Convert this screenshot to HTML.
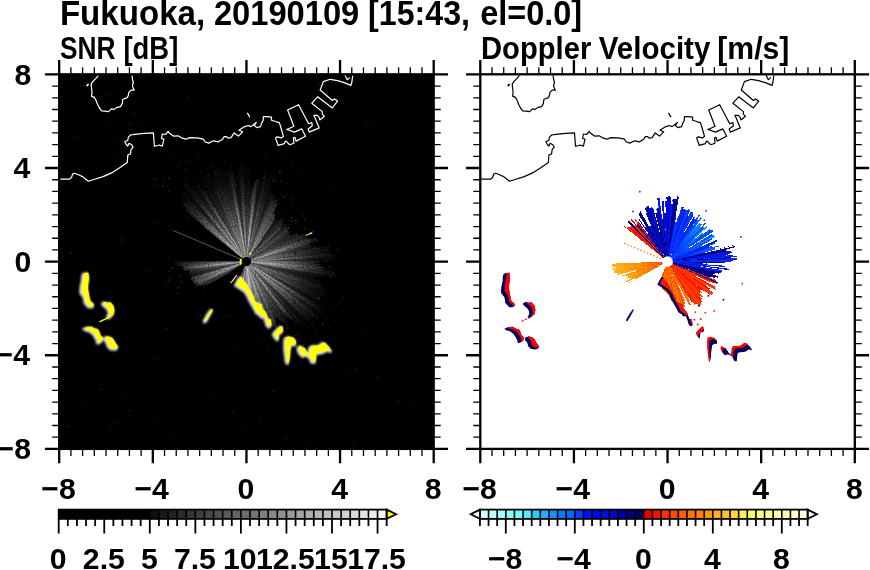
<!DOCTYPE html><html><head><meta charset="utf-8"><title>Fukuoka radar</title>
<style>html,body{margin:0;padding:0;background:#fff;width:870px;height:570px;overflow:hidden}svg{display:block}</style></head><body>
<svg width="870" height="570" viewBox="0 0 870 570">
<defs>
<clipPath id="cl"><rect x="59.2" y="74.3" width="374.5" height="374.6"/></clipPath>
<clipPath id="cr"><rect x="480.3" y="74.3" width="374.5" height="374.6"/></clipPath>
<radialGradient id="gf" gradientUnits="userSpaceOnUse" cx="246.45" cy="261.6" r="105"><stop offset="0" stop-color="#f6f6f6"/><stop offset="0.1" stop-color="#e6e6e6"/><stop offset="0.25" stop-color="#c2c2c2"/><stop offset="0.45" stop-color="#848484"/><stop offset="0.6" stop-color="#545454"/><stop offset="0.75" stop-color="#2e2e2e"/><stop offset="0.9" stop-color="#161616"/><stop offset="1" stop-color="#080808"/></radialGradient>
<radialGradient id="gc" gradientUnits="userSpaceOnUse" cx="246.45" cy="261.6" r="85"><stop offset="0" stop-color="#ffffff" stop-opacity="1"/><stop offset="0.25" stop-color="#e8e8e8" stop-opacity="0.95"/><stop offset="0.5" stop-color="#c0c0c0" stop-opacity="0.6"/><stop offset="0.75" stop-color="#a0a0a0" stop-opacity="0.2"/><stop offset="1" stop-color="#808080" stop-opacity="0"/></radialGradient>
<filter id="grain" filterUnits="userSpaceOnUse" x="59.2" y="74.3" width="374.5" height="374.6"><feTurbulence type="fractalNoise" baseFrequency="0.6" numOctaves="1" seed="4" result="t"/><feColorMatrix in="t" type="matrix" values="0 0 0 0 0  0 0 0 0 0  0 0 0 0 0  2.8 0 0 0 -0.65" result="a"/><feGaussianBlur in="SourceGraphic" stdDeviation="0.6" result="sg"/><feComposite in="sg" in2="a" operator="in" result="c"/><feGaussianBlur in="c" stdDeviation="0.35"/></filter>
<radialGradient id="gw" gradientUnits="userSpaceOnUse" cx="667.55" cy="261.6" r="55"><stop offset="0.08" stop-color="#ff4800"/><stop offset="0.45" stop-color="#ff8000"/><stop offset="0.75" stop-color="#ffa010"/><stop offset="1" stop-color="#ffb828"/></radialGradient>
<radialGradient id="gw2" gradientUnits="userSpaceOnUse" cx="667.55" cy="261.6" r="55"><stop offset="0.08" stop-color="#ff6000"/><stop offset="0.45" stop-color="#ff9800"/><stop offset="0.75" stop-color="#ffb020"/><stop offset="1" stop-color="#ffc030"/></radialGradient>
<filter id="erode" x="-10%" y="-10%" width="120%" height="120%"><feMorphology operator="erode" radius="0.5"/></filter>
<filter id="soft" x="-10%" y="-10%" width="120%" height="120%"><feGaussianBlur stdDeviation="0.7"/></filter>
<radialGradient id="gb" gradientUnits="userSpaceOnUse" cx="667.55" cy="261.6" r="55"><stop offset="0.1" stop-color="#0828f0"/><stop offset="0.4" stop-color="#0a50ff"/><stop offset="0.7" stop-color="#1880ff"/><stop offset="1" stop-color="#2098ff"/></radialGradient>
<radialGradient id="gb2" gradientUnits="userSpaceOnUse" cx="667.55" cy="261.6" r="55"><stop offset="0.1" stop-color="#0018e0"/><stop offset="0.5" stop-color="#0040ff"/><stop offset="1" stop-color="#1070ff"/></radialGradient>
<filter id="blur1" x="-20%" y="-20%" width="140%" height="140%"><feGaussianBlur stdDeviation="0.9"/></filter>
</defs>
<rect width="870" height="570" fill="#fff"/>
<rect x="59.2" y="74.3" width="374.5" height="374.6" fill="#000"/>
<g clip-path="url(#cl)">
<g fill="url(#gf)" filter="url(#grain)">
<polygon points="246.45,261.6 332.51,261.6 332.5,260.17" fill-opacity="0.26"/>
<polygon points="246.45,261.6 330.71,260.42 330.67,259.03" fill-opacity="0.17"/>
<polygon points="246.45,261.6 336.14,259.09 336.08,257.61" fill-opacity="0.18"/>
<polygon points="246.45,261.6 330.07,258.1 330,256.71" fill-opacity="0.24"/>
<polygon points="246.45,261.6 335.11,256.64 335.01,255.17" fill-opacity="0.40"/>
<polygon points="246.45,261.6 333.31,255.53 333.19,254.09" fill-opacity="0.58"/>
<polygon points="246.45,261.6 329.93,254.59 329.8,253.21" fill-opacity="0.35"/>
<polygon points="246.45,261.6 334.43,252.97 334.27,251.52" fill-opacity="0.29"/>
<polygon points="246.45,261.6 328.99,252.34 328.83,250.97" fill-opacity="0.27"/>
<polygon points="246.45,261.6 332.68,250.71 332.49,249.28" fill-opacity="0.34"/>
<polygon points="246.45,261.6 328.4,250.08 328.2,248.73" fill-opacity="0.37"/>
<polygon points="246.45,261.6 328.29,248.93 328.07,247.58" fill-opacity="0.28"/>
<polygon points="246.45,261.6 330.62,247.36 330.37,245.97" fill-opacity="0.30"/>
<polygon points="246.45,261.6 329.99,246.27 329.73,244.88" fill-opacity="0.38"/>
<polygon points="246.45,261.6 317.51,247.53 317.27,246.35" fill-opacity="0.21"/>
<polygon points="246.45,261.6 312.74,247.51 312.49,246.41" fill-opacity="0.16"/>
<polygon points="246.45,261.6 311.47,246.83 311.22,245.75" fill-opacity="0.26"/>
<polygon points="246.45,261.6 311.8,245.79 311.53,244.71" fill-opacity="0.24"/>
<polygon points="246.45,261.6 309.38,245.44 309.1,244.4" fill-opacity="0.24"/>
<polygon points="246.45,261.6 309.61,244.44 309.32,243.4" fill-opacity="0.39"/>
<polygon points="246.45,261.6 316.28,241.58 315.94,240.42" fill-opacity="0.48"/>
<polygon points="246.45,261.6 310.48,242.27 310.15,241.21" fill-opacity="0.56"/>
<polygon points="246.45,261.6 317.86,238.95 317.47,237.77" fill-opacity="0.51"/>
<polygon points="246.45,261.6 312.29,239.7 311.92,238.61" fill-opacity="0.47"/>
<polygon points="246.45,261.6 309.6,239.61 309.23,238.57" fill-opacity="0.53"/>
<polygon points="246.45,261.6 307.6,239.34 307.23,238.33" fill-opacity="0.48"/>
<polygon points="246.45,261.6 307.21,238.52 306.82,237.51" fill-opacity="0.37"/>
<polygon points="246.45,261.6 309.23,236.74 308.81,235.7" fill-opacity="0.21"/>
<polygon points="246.45,261.6 303.28,238.17 302.89,237.24" fill-opacity="0.17"/>
<polygon points="246.45,261.6 305.27,236.39 304.84,235.42" fill-opacity="0.31"/>
<polygon points="246.45,261.6 305.04,235.51 304.6,234.55" fill-opacity="0.29"/>
<polygon points="246.45,261.6 302.67,235.62 302.24,234.69" fill-opacity="0.24"/>
<polygon points="246.45,261.6 303.34,234.34 302.88,233.4" fill-opacity="0.20"/>
<polygon points="246.45,261.6 299.35,235.34 298.91,234.46" fill-opacity="0.16"/>
<polygon points="246.45,261.6 298.38,234.91 297.93,234.05" fill-opacity="0.12"/>
<polygon points="246.45,261.6 297.54,234.44 297.08,233.59" fill-opacity="0.15"/>
<polygon points="246.45,261.6 297.97,233.28 297.49,232.43" fill-opacity="0.17"/>
<polygon points="246.45,261.6 293.7,234.76 293.24,233.98" fill-opacity="0.13"/>
<polygon points="246.45,261.6 291.02,235.45 290.58,234.72" fill-opacity="0.12"/>
<polygon points="246.45,261.6 291.09,234.57 290.63,233.83" fill-opacity="0.13"/>
<polygon points="246.45,261.6 289.81,234.51 289.35,233.79" fill-opacity="0.11"/>
<polygon points="246.45,261.6 288.64,234.41 288.18,233.72" fill-opacity="0.12"/>
<polygon points="246.45,261.6 290.92,232.05 290.42,231.32" fill-opacity="0.17"/>
<polygon points="246.45,261.6 290.12,231.7 289.62,230.98" fill-opacity="0.18"/>
<polygon points="246.45,261.6 287.41,232.7 286.93,232.03" fill-opacity="0.16"/>
<polygon points="246.45,261.6 288.62,230.96 288.1,230.27" fill-opacity="0.19"/>
<polygon points="246.45,261.6 288.11,230.44 287.59,229.75" fill-opacity="0.21"/>
<polygon points="246.45,261.6 290.06,228.02 289.49,227.3" fill-opacity="0.23"/>
<polygon points="246.45,261.6 289.68,227.34 289.1,226.63" fill-opacity="0.20"/>
<polygon points="246.45,261.6 287.69,227.96 287.13,227.28" fill-opacity="0.16"/>
<polygon points="246.45,261.6 291.2,224.05 290.57,223.31" fill-opacity="0.19"/>
<polygon points="246.45,261.6 286.24,227.25 285.67,226.6" fill-opacity="0.12"/>
<polygon points="246.45,261.6 286.71,225.86 286.11,225.2" fill-opacity="0.07"/>
<polygon points="246.45,261.6 286.99,224.58 286.37,223.91" fill-opacity="0.12"/>
<polygon points="246.45,261.6 282.75,227.51 282.18,226.91" fill-opacity="0.21"/>
<polygon points="246.45,261.6 283.02,226.28 282.43,225.68" fill-opacity="0.33"/>
<polygon points="246.45,261.6 280.19,228.1 279.63,227.54" fill-opacity="0.35"/>
<polygon points="246.45,261.6 282.72,224.56 282.11,223.96" fill-opacity="0.28"/>
<polygon points="246.45,261.6 283.35,222.85 282.7,222.24" fill-opacity="0.15"/>
<polygon points="246.45,261.6 282.91,222.23 282.25,221.63" fill-opacity="0.11"/>
<polygon points="246.45,261.6 284.63,219.2 283.92,218.57" fill-opacity="0.15"/>
<polygon points="246.45,261.6 282.3,220.65 281.62,220.06" fill-opacity="0.14"/>
<polygon points="246.45,261.6 283.77,217.75 283.03,217.14" fill-opacity="0.13"/>
<polygon points="246.45,261.6 282.37,218.18 281.65,217.59" fill-opacity="0.09"/>
<polygon points="246.45,261.6 280.79,218.89 280.07,218.33" fill-opacity="0.08"/>
<polygon points="246.45,261.6 278.56,220.5 277.88,219.97" fill-opacity="0.07"/>
<polygon points="246.45,261.6 278.4,219.51 277.69,218.99" fill-opacity="0.08"/>
<polygon points="246.45,261.6 277.57,219.39 276.87,218.88" fill-opacity="0.08"/>
<polygon points="246.45,261.6 275.38,221.19 274.71,220.72" fill-opacity="0.06"/>
<polygon points="246.45,261.6 275.72,219.49 275.02,219.01" fill-opacity="0.10"/>
<polygon points="246.45,261.6 273.35,221.72 272.69,221.27" fill-opacity="0.28"/>
<polygon points="246.45,261.6 275.27,217.56 274.53,217.09" fill-opacity="0.35"/>
<polygon points="246.45,261.6 274.75,217.01 274,216.55" fill-opacity="0.40"/>
<polygon points="246.45,261.6 275.47,214.43 274.69,213.95" fill-opacity="0.39"/>
<polygon points="246.45,261.6 274.81,214.02 274.02,213.56" fill-opacity="0.33"/>
<polygon points="246.45,261.6 273.89,214.07 273.1,213.62" fill-opacity="0.29"/>
<polygon points="246.45,261.6 275.65,209.36 274.78,208.88" fill-opacity="0.33"/>
<polygon points="246.45,261.6 278.03,203.19 277.06,202.67" fill-opacity="0.38"/>
<polygon points="246.45,261.6 276.42,204.28 275.46,203.79" fill-opacity="0.46"/>
<polygon points="246.45,261.6 278.09,198.96 277.05,198.44" fill-opacity="0.38"/>
<polygon points="246.45,261.6 276.33,200.34 275.31,199.86" fill-opacity="0.35"/>
<polygon points="246.45,261.6 275.2,200.5 274.19,200.03" fill-opacity="0.35"/>
<polygon points="246.45,261.6 273.95,200.98 272.94,200.53" fill-opacity="0.34"/>
<polygon points="246.45,261.6 275.38,195.39 274.27,194.92" fill-opacity="0.34"/>
<polygon points="246.45,261.6 272.44,199.78 271.41,199.35" fill-opacity="0.27"/>
<polygon points="246.45,261.6 272.36,197.46 271.3,197.04" fill-opacity="0.24"/>
<polygon points="246.45,261.6 272.45,194.56 271.34,194.13" fill-opacity="0.21"/>
<polygon points="246.45,261.6 273.62,188.55 272.4,188.11" fill-opacity="0.14"/>
<polygon points="246.45,261.6 270.68,193.54 269.55,193.15" fill-opacity="0.12"/>
<polygon points="246.45,261.6 271.28,188.65 270.07,188.25" fill-opacity="0.12"/>
<polygon points="246.45,261.6 270.91,186.31 269.66,185.92" fill-opacity="0.16"/>
<polygon points="246.45,261.6 271.24,181.5 269.91,181.1" fill-opacity="0.23"/>
<polygon points="246.45,261.6 270.58,179.62 269.22,179.23" fill-opacity="0.23"/>
<polygon points="246.45,261.6 270.25,176.35 268.83,175.97" fill-opacity="0.21"/>
<polygon points="246.45,261.6 268.13,179.54 266.77,179.19" fill-opacity="0.17"/>
<polygon points="246.45,261.6 267.82,175.9 266.39,175.56" fill-opacity="0.28"/>
<polygon points="246.45,261.6 266.73,175.15 265.29,174.83" fill-opacity="0.44"/>
<polygon points="246.45,261.6 266.67,169.65 265.14,169.33" fill-opacity="0.27"/>
<polygon points="246.45,261.6 265.24,170.07 263.72,169.77" fill-opacity="0.19"/>
<polygon points="246.45,261.6 262.02,180 260.66,179.76" fill-opacity="0.15"/>
<polygon points="246.45,261.6 260.62,181.24 259.29,181.02" fill-opacity="0.14"/>
<polygon points="246.45,261.6 259.42,181.5 258.09,181.3" fill-opacity="0.18"/>
<polygon points="246.45,261.6 258.27,181.57 256.94,181.39" fill-opacity="0.44"/>
<polygon points="246.45,261.6 257.31,180.22 255.96,180.05" fill-opacity="0.68"/>
<polygon points="246.45,261.6 256.06,181.02 254.72,180.88" fill-opacity="0.80"/>
<polygon points="246.45,261.6 254.4,186.01 253.14,185.89" fill-opacity="0.60"/>
<polygon points="246.45,261.6 252.99,189.74 251.8,189.64" fill-opacity="0.40"/>
<polygon points="246.45,261.6 252.26,186.14 251,186.05" fill-opacity="0.27"/>
<polygon points="246.45,261.6 251.32,184.23 250.03,184.16" fill-opacity="0.20"/>
<polygon points="246.45,261.6 250.56,177.53 249.17,177.48" fill-opacity="0.16"/>
<polygon points="246.45,261.6 249.73,167.53 248.17,167.49" fill-opacity="0.26"/>
<polygon points="246.45,261.6 248.48,164.91 246.87,164.89" fill-opacity="0.23"/>
<polygon points="246.45,261.6 247.14,163.42 245.51,163.42" fill-opacity="0.12"/>
<polygon points="246.45,261.6 245.75,161.75 244.1,161.77" fill-opacity="0.18"/>
<polygon points="246.45,261.6 244.36,161.85 242.71,161.89" fill-opacity="0.33"/>
<polygon points="246.45,261.6 243.27,170.44 241.76,170.51" fill-opacity="0.41"/>
<polygon points="246.45,261.6 241.58,162.07 239.93,162.17" fill-opacity="0.47"/>
<polygon points="246.45,261.6 240.35,164.69 238.75,164.8" fill-opacity="0.40"/>
<polygon points="246.45,261.6 238.96,164.21 237.34,164.35" fill-opacity="0.27"/>
<polygon points="246.45,261.6 237.65,164.96 236.05,165.12" fill-opacity="0.17"/>
<polygon points="246.45,261.6 236.74,169.18 235.21,169.36" fill-opacity="0.12"/>
<polygon points="246.45,261.6 235.37,168.64 233.83,168.84" fill-opacity="0.14"/>
<polygon points="246.45,261.6 234.44,171.59 232.95,171.8" fill-opacity="0.22"/>
<polygon points="246.45,261.6 232.22,165.22 230.62,165.47" fill-opacity="0.50"/>
<polygon points="246.45,261.6 231.91,171.81 230.42,172.06" fill-opacity="0.67"/>
<polygon points="246.45,261.6 230.65,171.99 229.17,172.26" fill-opacity="0.70"/>
<polygon points="246.45,261.6 229.12,170.74 227.61,171.04" fill-opacity="0.54"/>
<polygon points="246.45,261.6 227.99,171.69 226.51,172.01" fill-opacity="0.39"/>
<polygon points="246.45,261.6 226.33,170.09 224.82,170.44" fill-opacity="0.25"/>
<polygon points="246.45,261.6 225.83,173.67 224.37,174.02" fill-opacity="0.28"/>
<polygon points="246.45,261.6 224.65,174.15 223.2,174.52" fill-opacity="0.40"/>
<polygon points="246.45,261.6 222.53,171.05 221.03,171.46" fill-opacity="0.29"/>
<polygon points="246.45,261.6 220.74,169.5 219.21,169.94" fill-opacity="0.25"/>
<polygon points="246.45,261.6 217.77,164.15 216.16,164.64" fill-opacity="0.32"/>
<polygon points="246.45,261.6 217.03,166.57 215.46,167.07" fill-opacity="0.34"/>
<polygon points="246.45,261.6 212.04,155.69 210.28,156.27" fill-opacity="0.37"/>
<polygon points="246.45,261.6 212.1,160.71 210.43,161.29" fill-opacity="0.38"/>
<polygon points="246.45,261.6 213.85,170.06 212.34,170.61" fill-opacity="0.36"/>
<polygon points="246.45,261.6 213.7,173.54 212.24,174.09" fill-opacity="0.28"/>
<polygon points="246.45,261.6 213.64,177 212.24,177.56" fill-opacity="0.37"/>
<polygon points="246.45,261.6 213.48,179.99 212.13,180.55" fill-opacity="0.44"/>
<polygon points="246.45,261.6 213.5,183.21 212.2,183.77" fill-opacity="0.32"/>
<polygon points="246.45,261.6 208.54,174.84 207.11,175.48" fill-opacity="0.26"/>
<polygon points="246.45,261.6 205.41,171.14 203.92,171.83" fill-opacity="0.21"/>
<polygon points="246.45,261.6 205.33,174.21 203.88,174.9" fill-opacity="0.20"/>
<polygon points="246.45,261.6 202.79,172.08 201.31,172.82" fill-opacity="0.21"/>
<polygon points="246.45,261.6 203.05,175.69 201.63,176.42" fill-opacity="0.27"/>
<polygon points="246.45,261.6 201.94,176.46 200.53,177.21" fill-opacity="0.22"/>
<polygon points="246.45,261.6 200.31,176.26 198.9,177.04" fill-opacity="0.18"/>
<polygon points="246.45,261.6 200.95,180.19 199.61,180.95" fill-opacity="0.19"/>
<polygon points="246.45,261.6 198.12,177.89 196.74,178.7" fill-opacity="0.32"/>
<polygon points="246.45,261.6 201.98,187 200.75,187.75" fill-opacity="0.58"/>
<polygon points="246.45,261.6 202.16,189.61 200.97,190.35" fill-opacity="0.66"/>
<polygon points="246.45,261.6 195.45,181.24 194.13,182.1" fill-opacity="0.56"/>
<polygon points="246.45,261.6 196.19,184.8 194.92,185.64" fill-opacity="0.33"/>
<polygon points="246.45,261.6 196.68,187.81 195.46,188.65" fill-opacity="0.25"/>
<polygon points="246.45,261.6 192.31,183.7 191.03,184.61" fill-opacity="0.27"/>
<polygon points="246.45,261.6 194.21,188.63 193,189.5" fill-opacity="0.33"/>
<polygon points="246.45,261.6 189.71,184.63 188.44,185.58" fill-opacity="0.43"/>
<polygon points="246.45,261.6 185.29,181.03 183.97,182.06" fill-opacity="0.50"/>
<polygon points="246.45,261.6 184.65,182.5 183.35,183.54" fill-opacity="0.61"/>
<polygon points="246.45,261.6 184.39,184.42 183.12,185.45" fill-opacity="0.61"/>
<polygon points="246.45,261.6 186.28,188.87 185.08,189.88" fill-opacity="0.25"/>
<polygon points="246.45,261.6 184.36,188.64 183.16,189.68" fill-opacity="0.15"/>
<polygon points="246.45,261.6 185.39,191.85 184.24,192.87" fill-opacity="0.19"/>
<polygon points="246.45,261.6 181.13,189.06 179.94,190.15" fill-opacity="0.26"/>
<polygon points="246.45,261.6 183.87,194.02 182.76,195.06" fill-opacity="0.41"/>
<polygon points="246.45,261.6 182.97,194.94 181.87,196" fill-opacity="0.50"/>
<polygon points="246.45,261.6 186.78,200.67 185.78,201.67" fill-opacity="0.55"/>
<polygon points="246.45,261.6 187.48,203.04 186.51,204.02" fill-opacity="0.49"/>
<polygon points="246.45,261.6 183.37,200.68 182.37,201.74" fill-opacity="0.61"/>
<polygon points="246.45,261.6 182.92,201.94 181.94,203" fill-opacity="0.64"/>
<polygon points="246.45,261.6 184.92,205.42 184,206.44" fill-opacity="0.54"/>
<polygon points="246.45,261.6 186.18,208.09 185.3,209.1" fill-opacity="0.49"/>
<polygon points="246.45,261.6 186.56,209.9 185.71,210.9" fill-opacity="0.42"/>
<polygon points="246.45,261.6 202.43,224.66 201.82,225.39" fill-opacity="0.25"/>
<polygon points="246.45,261.6 234.76,252.07 234.61,252.26" fill-opacity="0.07"/>
<polygon points="246.45,261.6 216.93,261.19 216.93,261.68" fill-opacity="0.14"/>
<polygon points="246.45,261.6 175.02,261.6 175.02,262.78" fill-opacity="0.27"/>
<polygon points="246.45,261.6 174.92,262.6 174.95,263.78" fill-opacity="0.21"/>
<polygon points="246.45,261.6 178.72,263.49 178.76,264.61" fill-opacity="0.35"/>
<polygon points="246.45,261.6 174.27,264.63 174.33,265.82" fill-opacity="0.38"/>
<polygon points="246.45,261.6 180.5,265.29 180.57,266.38" fill-opacity="0.37"/>
<polygon points="246.45,261.6 183.88,265.98 183.96,267.01" fill-opacity="0.39"/>
<polygon points="246.45,261.6 181.44,267.06 181.54,268.14" fill-opacity="0.44"/>
<polygon points="246.45,261.6 185.55,267.57 185.66,268.58" fill-opacity="0.65"/>
<polygon points="246.45,261.6 182.87,268.73 183,269.78" fill-opacity="0.62"/>
<polygon points="246.45,261.6 183.85,269.51 183.99,270.55" fill-opacity="0.49"/>
<polygon points="246.45,261.6 188.88,269.69 189.02,270.64" fill-opacity="0.25"/>
<polygon points="246.45,261.6 188.95,270.5 189.11,271.45" fill-opacity="0.18"/>
<polygon points="246.45,261.6 188.86,271.34 189.02,272.29" fill-opacity="0.23"/>
<polygon points="246.45,261.6 189.47,272.06 189.66,273" fill-opacity="0.15"/>
<polygon points="246.45,261.6 187.3,273.31 187.5,274.29" fill-opacity="0.10"/>
<polygon points="246.45,261.6 189.91,273.62 190.11,274.55" fill-opacity="0.15"/>
<polygon points="246.45,261.6 189.06,274.64 189.29,275.59" fill-opacity="0.15"/>
<polygon points="246.45,261.6 191.33,274.93 191.56,275.85" fill-opacity="0.09"/>
<polygon points="246.45,261.6 186.28,277.05 186.54,278.05" fill-opacity="0.13"/>
<polygon points="246.45,261.6 191.08,276.64 191.34,277.56" fill-opacity="0.18"/>
<polygon points="246.45,261.6 191.52,277.35 191.79,278.26" fill-opacity="0.28"/>
<polygon points="246.45,261.6 191.82,278.09 192.1,279" fill-opacity="0.39"/>
<polygon points="246.45,261.6 190.78,279.26 191.08,280.18" fill-opacity="0.49"/>
<polygon points="246.45,261.6 194.64,278.83 194.93,279.69" fill-opacity="0.40"/>
<polygon points="246.45,261.6 191.63,280.69 191.96,281.6" fill-opacity="0.37"/>
<polygon points="246.45,261.6 194.03,280.68 194.35,281.55" fill-opacity="0.51"/>
<polygon points="246.45,261.6 193.54,281.7 193.88,282.57" fill-opacity="0.51"/>
<polygon points="246.45,261.6 193.55,282.54 193.91,283.42" fill-opacity="0.45"/>
<polygon points="246.45,261.6 197.23,281.89 197.58,282.7" fill-opacity="0.45"/>
<polygon points="246.45,261.6 195.14,283.59 195.51,284.44" fill-opacity="0.39"/>
<polygon points="246.45,261.6 196.69,283.76 197.06,284.58" fill-opacity="0.41"/>
<polygon points="246.45,261.6 197.81,284.07 198.19,284.88" fill-opacity="0.35"/>
<polygon points="246.45,261.6 194.03,286.71 194.46,287.58" fill-opacity="0.31"/>
<polygon points="246.45,261.6 199.41,284.95 199.8,285.73" fill-opacity="0.15"/>
<polygon points="246.45,261.6 199.84,285.55 200.24,286.32" fill-opacity="0.14"/>
<polygon points="246.45,261.6 200.5,286.03 200.91,286.79" fill-opacity="0.17"/>
<polygon points="246.45,261.6 203.14,285.41 203.54,286.13" fill-opacity="0.18"/>
<polygon points="246.45,261.6 205.96,284.6 206.35,285.27" fill-opacity="0.17"/>
<polygon points="246.45,261.6 206.81,284.86 207.2,285.51" fill-opacity="0.11"/>
<polygon points="246.45,261.6 214.98,280.66 215.31,281.17" fill-opacity="0.10"/>
<polygon points="246.45,261.6 225.17,274.9 225.39,275.25" fill-opacity="0.10"/>
<polygon points="246.45,261.6 236.97,267.71 237.08,267.86" fill-opacity="0.06"/>
<polygon points="246.45,261.6 243.96,267.52 244.06,267.57" fill-opacity="0.07"/>
<polygon points="246.45,261.6 239.25,279.42 239.55,279.53" fill-opacity="0.19"/>
<polygon points="246.45,261.6 238.96,280.91 239.28,281.03" fill-opacity="0.20"/>
<polygon points="246.45,261.6 239.4,280.56 239.71,280.68" fill-opacity="0.23"/>
<polygon points="246.45,261.6 239.43,281.3 239.76,281.42" fill-opacity="0.18"/>
<polygon points="246.45,261.6 239.56,281.83 239.9,281.94" fill-opacity="0.15"/>
<polygon points="246.45,261.6 239.81,282.03 240.15,282.14" fill-opacity="0.13"/>
<polygon points="246.45,261.6 240.05,282.27 240.39,282.38" fill-opacity="0.13"/>
<polygon points="246.45,261.6 240.2,282.85 240.55,282.95" fill-opacity="0.15"/>
<polygon points="246.45,261.6 240.25,283.79 240.62,283.89" fill-opacity="0.09"/>
<polygon points="246.45,261.6 240.72,283.28 241.08,283.37" fill-opacity="0.09"/>
<polygon points="246.45,261.6 240.76,284.41 241.14,284.5" fill-opacity="0.18"/>
<polygon points="246.45,261.6 241.04,284.67 241.42,284.76" fill-opacity="0.20"/>
<polygon points="246.45,261.6 241.42,284.49 241.8,284.57" fill-opacity="0.30"/>
<polygon points="246.45,261.6 241.58,285.34 241.97,285.41" fill-opacity="0.48"/>
<polygon points="246.45,261.6 241.76,286.17 242.17,286.24" fill-opacity="0.57"/>
<polygon points="246.45,261.6 242.08,286.4 242.49,286.47" fill-opacity="0.58"/>
<polygon points="246.45,261.6 242.48,286.11 242.89,286.18" fill-opacity="0.40"/>
<polygon points="246.45,261.6 242.57,287.9 243,287.96" fill-opacity="0.33"/>
<polygon points="246.45,261.6 242.93,287.99 243.37,288.04" fill-opacity="0.32"/>
<polygon points="246.45,261.6 243.22,288.66 243.67,288.71" fill-opacity="0.30"/>
<polygon points="246.45,261.6 243.71,287.65 244.14,287.7" fill-opacity="0.25"/>
<polygon points="246.45,261.6 244.02,288.27 244.47,288.31" fill-opacity="0.25"/>
<polygon points="246.45,261.6 244.4,288.26 244.84,288.29" fill-opacity="0.27"/>
<polygon points="246.45,261.6 244.67,289.84 245.14,289.87" fill-opacity="0.39"/>
<polygon points="246.45,261.6 245.09,289.35 245.55,289.36" fill-opacity="0.46"/>
<polygon points="246.45,261.6 245.48,289.45 245.94,289.46" fill-opacity="0.52"/>
<polygon points="246.45,261.6 245.85,290.29 246.32,290.3" fill-opacity="0.41"/>
<polygon points="246.45,261.6 246.24,291.49 246.74,291.49" fill-opacity="0.42"/>
<polygon points="246.45,261.6 246.66,291.66 247.16,291.66" fill-opacity="0.47"/>
<polygon points="246.45,261.6 247.07,290.99 247.55,290.98" fill-opacity="0.50"/>
<polygon points="246.45,261.6 247.5,291.54 247.99,291.52" fill-opacity="0.49"/>
<polygon points="246.45,261.6 248.04,294.16 248.58,294.13" fill-opacity="0.40"/>
<polygon points="246.45,261.6 248.53,294.67 249.08,294.64" fill-opacity="0.55"/>
<polygon points="246.45,261.6 249.11,296.11 249.68,296.06" fill-opacity="0.76"/>
<polygon points="246.45,261.6 249.58,295.99 250.15,295.93" fill-opacity="0.78"/>
<polygon points="246.45,261.6 250.17,297.03 250.76,296.97" fill-opacity="0.76"/>
<polygon points="246.45,261.6 250.98,299.56 251.6,299.48" fill-opacity="0.71"/>
<polygon points="246.45,261.6 251.58,300.08 252.22,299.99" fill-opacity="0.77"/>
<polygon points="246.45,261.6 252.17,300.35 252.81,300.25" fill-opacity="0.81"/>
<polygon points="246.45,261.6 253.24,303.54 253.94,303.42" fill-opacity="0.70"/>
<polygon points="246.45,261.6 253.91,303.89 254.61,303.76" fill-opacity="0.52"/>
<polygon points="246.45,261.6 254.81,305.4 255.53,305.26" fill-opacity="0.37"/>
<polygon points="246.45,261.6 255.27,304.58 255.98,304.43" fill-opacity="0.26"/>
<polygon points="246.45,261.6 256.64,307.95 257.41,307.78" fill-opacity="0.27"/>
<polygon points="246.45,261.6 257.11,307.05 257.86,306.87" fill-opacity="0.36"/>
<polygon points="246.45,261.6 258.66,310.58 259.47,310.37" fill-opacity="0.48"/>
<polygon points="246.45,261.6 259.41,310.64 260.22,310.42" fill-opacity="0.53"/>
<polygon points="246.45,261.6 260.39,311.52 261.21,311.28" fill-opacity="0.47"/>
<polygon points="246.45,261.6 261.69,313.38 262.54,313.12" fill-opacity="0.52"/>
<polygon points="246.45,261.6 263.21,315.75 264.11,315.46" fill-opacity="0.78"/>
<polygon points="246.45,261.6 263.92,315.37 264.81,315.07" fill-opacity="0.62"/>
<polygon points="246.45,261.6 265.36,317.14 266.27,316.81" fill-opacity="0.46"/>
<polygon points="246.45,261.6 267.51,320.73 268.48,320.37" fill-opacity="0.31"/>
<polygon points="246.45,261.6 268.87,321.87 269.86,321.49" fill-opacity="0.26"/>
<polygon points="246.45,261.6 270.27,323 271.28,322.6" fill-opacity="0.28"/>
<polygon points="246.45,261.6 272.7,326.57 273.77,326.13" fill-opacity="0.27"/>
<polygon points="246.45,261.6 274.09,327.35 275.18,326.88" fill-opacity="0.32"/>
<polygon points="246.45,261.6 275.28,327.6 276.37,327.11" fill-opacity="0.47"/>
<polygon points="246.45,261.6 275.47,325.57 276.52,325.08" fill-opacity="0.49"/>
<polygon points="246.45,261.6 274.79,321.83 275.78,321.35" fill-opacity="0.43"/>
<polygon points="246.45,261.6 275.71,321.59 276.7,321.1" fill-opacity="0.32"/>
<polygon points="246.45,261.6 274.16,316.46 275.07,316" fill-opacity="0.26"/>
<polygon points="246.45,261.6 276.25,318.6 277.19,318.09" fill-opacity="0.29"/>
<polygon points="246.45,261.6 277.01,318.12 277.94,317.61" fill-opacity="0.28"/>
<polygon points="246.45,261.6 280.01,321.66 281.01,321.09" fill-opacity="0.25"/>
<polygon points="246.45,261.6 280.8,321.1 281.78,320.52" fill-opacity="0.22"/>
<polygon points="246.45,261.6 283.6,323.91 284.62,323.29" fill-opacity="0.25"/>
<polygon points="246.45,261.6 283.67,322.11 284.67,321.48" fill-opacity="0.32"/>
<polygon points="246.45,261.6 287.53,326.33 288.6,325.64" fill-opacity="0.21"/>
<polygon points="246.45,261.6 286.41,322.66 287.41,321.99" fill-opacity="0.17"/>
<polygon points="246.45,261.6 284.13,317.46 285.05,316.83" fill-opacity="0.20"/>
<polygon points="246.45,261.6 284.98,317.04 285.9,316.39" fill-opacity="0.28"/>
<polygon points="246.45,261.6 287.07,318.34 288.01,317.66" fill-opacity="0.47"/>
<polygon points="246.45,261.6 284.08,312.64 284.92,312.01" fill-opacity="0.65"/>
<polygon points="246.45,261.6 290.23,319.28 291.18,318.55" fill-opacity="0.69"/>
<polygon points="246.45,261.6 292.01,319.91 292.97,319.15" fill-opacity="0.43"/>
<polygon points="246.45,261.6 296.5,323.85 297.53,323.02" fill-opacity="0.24"/>
<polygon points="246.45,261.6 302.39,329.22 303.5,328.28" fill-opacity="0.14"/>
<polygon points="246.45,261.6 301.78,326.61 302.85,325.69" fill-opacity="0.24"/>
<polygon points="246.45,261.6 303.42,326.68 304.5,325.73" fill-opacity="0.23"/>
<polygon points="246.45,261.6 305.26,326.91 306.33,325.93" fill-opacity="0.16"/>
<polygon points="246.45,261.6 307.75,327.8 308.84,326.77" fill-opacity="0.12"/>
<polygon points="246.45,261.6 303.65,321.66 304.63,320.7" fill-opacity="0.11"/>
<polygon points="246.45,261.6 307.65,324.1 308.68,323.07" fill-opacity="0.12"/>
<polygon points="246.45,261.6 307.55,322.28 308.55,321.25" fill-opacity="0.21"/>
<polygon points="246.45,261.6 308.52,321.54 309.5,320.5" fill-opacity="0.35"/>
<polygon points="246.45,261.6 308.8,320.15 309.77,319.11" fill-opacity="0.44"/>
<polygon points="246.45,261.6 310.57,320.15 311.53,319.08" fill-opacity="0.43"/>
<polygon points="246.45,261.6 310.25,318.24 311.18,317.17" fill-opacity="0.38"/>
<polygon points="246.45,261.6 312.38,318.51 313.32,317.41" fill-opacity="0.35"/>
<polygon points="246.45,261.6 312.63,317.13 313.54,316.03" fill-opacity="0.36"/>
<polygon points="246.45,261.6 318.56,320.41 319.52,319.21" fill-opacity="0.60"/>
<polygon points="246.45,261.6 314.39,315.45 315.27,314.32" fill-opacity="0.56"/>
<polygon points="246.45,261.6 313.49,313.23 314.34,312.11" fill-opacity="0.44"/>
<polygon points="246.45,261.6 312.86,311.28 313.67,310.17" fill-opacity="0.27"/>
<polygon points="246.45,261.6 319.72,314.83 320.59,313.61" fill-opacity="0.25"/>
<polygon points="246.45,261.6 320.97,314.17 321.83,312.93" fill-opacity="0.40"/>
<polygon points="246.45,261.6 320.59,312.36 321.42,311.13" fill-opacity="0.55"/>
<polygon points="246.45,261.6 318.61,309.54 319.4,308.34" fill-opacity="0.66"/>
<polygon points="246.45,261.6 319.66,308.78 320.43,307.56" fill-opacity="0.48"/>
<polygon points="246.45,261.6 321.29,308.36 322.05,307.12" fill-opacity="0.27"/>
<polygon points="246.45,261.6 323.49,308.26 324.25,306.97" fill-opacity="0.11"/>
<polygon points="246.45,261.6 320.09,304.8 320.79,303.58" fill-opacity="0.11"/>
<polygon points="246.45,261.6 321.18,304.05 321.87,302.81" fill-opacity="0.12"/>
<polygon points="246.45,261.6 317.65,300.74 318.29,299.55" fill-opacity="0.15"/>
<polygon points="246.45,261.6 322.14,301.85 322.8,300.59" fill-opacity="0.21"/>
<polygon points="246.45,261.6 321.52,300.18 322.15,298.93" fill-opacity="0.31"/>
<polygon points="246.45,261.6 318.72,297.47 319.3,296.27" fill-opacity="0.25"/>
<polygon points="246.45,261.6 318.28,296.01 318.84,294.82" fill-opacity="0.23"/>
<polygon points="246.45,261.6 327.94,299.25 328.55,297.9" fill-opacity="0.21"/>
<polygon points="246.45,261.6 324.8,296.48 325.37,295.18" fill-opacity="0.22"/>
<polygon points="246.45,261.6 327.63,296.4 328.2,295.04" fill-opacity="0.25"/>
<polygon points="246.45,261.6 325.07,294 325.59,292.7" fill-opacity="0.17"/>
<polygon points="246.45,261.6 328.72,294.17 329.25,292.8" fill-opacity="0.19"/>
<polygon points="246.45,261.6 328.8,292.88 329.3,291.51" fill-opacity="0.32"/>
<polygon points="246.45,261.6 327.92,291.25 328.4,289.9" fill-opacity="0.32"/>
<polygon points="246.45,261.6 323.91,288.57 324.35,287.29" fill-opacity="0.29"/>
<polygon points="246.45,261.6 326.28,288.16 326.71,286.83" fill-opacity="0.22"/>
<polygon points="246.45,261.6 321.37,285.37 321.75,284.12" fill-opacity="0.18"/>
<polygon points="246.45,261.6 322.68,284.61 323.05,283.35" fill-opacity="0.14"/>
<polygon points="246.45,261.6 319.01,282.41 319.35,281.2" fill-opacity="0.12"/>
<polygon points="246.45,261.6 319.58,281.47 319.9,280.25" fill-opacity="0.11"/>
<polygon points="246.45,261.6 314.64,279.11 314.92,277.98" fill-opacity="0.09"/>
<polygon points="246.45,261.6 313.77,277.89 314.03,276.77" fill-opacity="0.09"/>
<polygon points="246.45,261.6 317.39,277.72 317.65,276.54" fill-opacity="0.11"/>
<polygon points="246.45,261.6 319.86,277.2 320.11,275.98" fill-opacity="0.14"/>
<polygon points="246.45,261.6 327.32,277.61 327.58,276.27" fill-opacity="0.17"/>
<polygon points="246.45,261.6 330.91,277.1 331.15,275.7" fill-opacity="0.26"/>
<polygon points="246.45,261.6 336.27,276.79 336.51,275.3" fill-opacity="0.41"/>
<polygon points="246.45,261.6 336.17,275.49 336.39,274" fill-opacity="0.58"/>
<polygon points="246.45,261.6 335.16,274.07 335.35,272.59" fill-opacity="0.47"/>
<polygon points="246.45,261.6 333.54,272.6 333.71,271.16" fill-opacity="0.49"/>
<polygon points="246.45,261.6 324.88,270.4 325.02,269.1" fill-opacity="0.57"/>
<polygon points="246.45,261.6 320.99,268.91 321.1,267.67" fill-opacity="0.64"/>
<polygon points="246.45,261.6 325.01,268.2 325.11,266.89" fill-opacity="0.67"/>
<polygon points="246.45,261.6 317.24,266.55 317.31,265.38" fill-opacity="0.64"/>
<polygon points="246.45,261.6 321.67,265.81 321.73,264.56" fill-opacity="0.48"/>
<polygon points="246.45,261.6 319.85,264.68 319.89,263.46" fill-opacity="0.32"/>
<polygon points="246.45,261.6 313.51,263.47 313.53,262.36" fill-opacity="0.53"/>
<polygon points="246.45,261.6 319.36,262.62 319.37,261.41" fill-opacity="0.54"/>
</g>
<g fill="url(#gc)" filter="url(#soft)">
<polygon points="246.45,261.6 332.51,261.6 332.5,260.17" fill-opacity="0.33"/>
<polygon points="246.45,261.6 330.71,260.42 330.67,259.03" fill-opacity="0.25"/>
<polygon points="246.45,261.6 336.14,259.09 336.08,257.61" fill-opacity="0.26"/>
<polygon points="246.45,261.6 330.07,258.1 330,256.71" fill-opacity="0.30"/>
<polygon points="246.45,261.6 335.11,256.64 335.01,255.17" fill-opacity="0.45"/>
<polygon points="246.45,261.6 333.31,255.53 333.19,254.09" fill-opacity="0.61"/>
<polygon points="246.45,261.6 329.93,254.59 329.8,253.21" fill-opacity="0.41"/>
<polygon points="246.45,261.6 334.43,252.97 334.27,251.52" fill-opacity="0.35"/>
<polygon points="246.45,261.6 328.99,252.34 328.83,250.97" fill-opacity="0.34"/>
<polygon points="246.45,261.6 332.68,250.71 332.49,249.28" fill-opacity="0.40"/>
<polygon points="246.45,261.6 328.4,250.08 328.2,248.73" fill-opacity="0.43"/>
<polygon points="246.45,261.6 328.29,248.93 328.07,247.58" fill-opacity="0.34"/>
<polygon points="246.45,261.6 330.62,247.36 330.37,245.97" fill-opacity="0.36"/>
<polygon points="246.45,261.6 329.99,246.27 329.73,244.88" fill-opacity="0.43"/>
<polygon points="246.45,261.6 317.51,247.53 317.27,246.35" fill-opacity="0.28"/>
<polygon points="246.45,261.6 312.74,247.51 312.49,246.41" fill-opacity="0.23"/>
<polygon points="246.45,261.6 311.47,246.83 311.22,245.75" fill-opacity="0.32"/>
<polygon points="246.45,261.6 311.8,245.79 311.53,244.71" fill-opacity="0.30"/>
<polygon points="246.45,261.6 309.38,245.44 309.1,244.4" fill-opacity="0.30"/>
<polygon points="246.45,261.6 309.61,244.44 309.32,243.4" fill-opacity="0.43"/>
<polygon points="246.45,261.6 316.28,241.58 315.94,240.42" fill-opacity="0.51"/>
<polygon points="246.45,261.6 310.48,242.27 310.15,241.21" fill-opacity="0.58"/>
<polygon points="246.45,261.6 317.86,238.95 317.47,237.77" fill-opacity="0.54"/>
<polygon points="246.45,261.6 312.29,239.7 311.92,238.61" fill-opacity="0.50"/>
<polygon points="246.45,261.6 309.6,239.61 309.23,238.57" fill-opacity="0.55"/>
<polygon points="246.45,261.6 307.6,239.34 307.23,238.33" fill-opacity="0.50"/>
<polygon points="246.45,261.6 307.21,238.52 306.82,237.51" fill-opacity="0.41"/>
<polygon points="246.45,261.6 309.23,236.74 308.81,235.7" fill-opacity="0.26"/>
<polygon points="246.45,261.6 303.28,238.17 302.89,237.24" fill-opacity="0.23"/>
<polygon points="246.45,261.6 305.27,236.39 304.84,235.42" fill-opacity="0.35"/>
<polygon points="246.45,261.6 305.04,235.51 304.6,234.55" fill-opacity="0.33"/>
<polygon points="246.45,261.6 302.67,235.62 302.24,234.69" fill-opacity="0.29"/>
<polygon points="246.45,261.6 303.34,234.34 302.88,233.4" fill-opacity="0.24"/>
<polygon points="246.45,261.6 299.35,235.34 298.91,234.46" fill-opacity="0.21"/>
<polygon points="246.45,261.6 298.38,234.91 297.93,234.05" fill-opacity="0.17"/>
<polygon points="246.45,261.6 297.54,234.44 297.08,233.59" fill-opacity="0.19"/>
<polygon points="246.45,261.6 297.97,233.28 297.49,232.43" fill-opacity="0.22"/>
<polygon points="246.45,261.6 293.7,234.76 293.24,233.98" fill-opacity="0.18"/>
<polygon points="246.45,261.6 291.02,235.45 290.58,234.72" fill-opacity="0.17"/>
<polygon points="246.45,261.6 291.09,234.57 290.63,233.83" fill-opacity="0.18"/>
<polygon points="246.45,261.6 289.81,234.51 289.35,233.79" fill-opacity="0.16"/>
<polygon points="246.45,261.6 288.64,234.41 288.18,233.72" fill-opacity="0.16"/>
<polygon points="246.45,261.6 290.92,232.05 290.42,231.32" fill-opacity="0.21"/>
<polygon points="246.45,261.6 290.12,231.7 289.62,230.98" fill-opacity="0.22"/>
<polygon points="246.45,261.6 287.41,232.7 286.93,232.03" fill-opacity="0.20"/>
<polygon points="246.45,261.6 288.62,230.96 288.1,230.27" fill-opacity="0.23"/>
<polygon points="246.45,261.6 288.11,230.44 287.59,229.75" fill-opacity="0.25"/>
<polygon points="246.45,261.6 290.06,228.02 289.49,227.3" fill-opacity="0.26"/>
<polygon points="246.45,261.6 289.68,227.34 289.1,226.63" fill-opacity="0.24"/>
<polygon points="246.45,261.6 287.69,227.96 287.13,227.28" fill-opacity="0.20"/>
<polygon points="246.45,261.6 291.2,224.05 290.57,223.31" fill-opacity="0.23"/>
<polygon points="246.45,261.6 286.24,227.25 285.67,226.6" fill-opacity="0.17"/>
<polygon points="246.45,261.6 286.71,225.86 286.11,225.2" fill-opacity="0.12"/>
<polygon points="246.45,261.6 286.99,224.58 286.37,223.91" fill-opacity="0.16"/>
<polygon points="246.45,261.6 282.75,227.51 282.18,226.91" fill-opacity="0.24"/>
<polygon points="246.45,261.6 283.02,226.28 282.43,225.68" fill-opacity="0.35"/>
<polygon points="246.45,261.6 280.19,228.1 279.63,227.54" fill-opacity="0.37"/>
<polygon points="246.45,261.6 282.72,224.56 282.11,223.96" fill-opacity="0.30"/>
<polygon points="246.45,261.6 283.35,222.85 282.7,222.24" fill-opacity="0.19"/>
<polygon points="246.45,261.6 282.91,222.23 282.25,221.63" fill-opacity="0.15"/>
<polygon points="246.45,261.6 284.63,219.2 283.92,218.57" fill-opacity="0.19"/>
<polygon points="246.45,261.6 282.3,220.65 281.62,220.06" fill-opacity="0.19"/>
<polygon points="246.45,261.6 283.77,217.75 283.03,217.14" fill-opacity="0.17"/>
<polygon points="246.45,261.6 282.37,218.18 281.65,217.59" fill-opacity="0.14"/>
<polygon points="246.45,261.6 280.79,218.89 280.07,218.33" fill-opacity="0.13"/>
<polygon points="246.45,261.6 278.56,220.5 277.88,219.97" fill-opacity="0.12"/>
<polygon points="246.45,261.6 278.4,219.51 277.69,218.99" fill-opacity="0.13"/>
<polygon points="246.45,261.6 277.57,219.39 276.87,218.88" fill-opacity="0.13"/>
<polygon points="246.45,261.6 275.38,221.19 274.71,220.72" fill-opacity="0.11"/>
<polygon points="246.45,261.6 275.72,219.49 275.02,219.01" fill-opacity="0.15"/>
<polygon points="246.45,261.6 273.35,221.72 272.69,221.27" fill-opacity="0.31"/>
<polygon points="246.45,261.6 275.27,217.56 274.53,217.09" fill-opacity="0.37"/>
<polygon points="246.45,261.6 274.75,217.01 274,216.55" fill-opacity="0.42"/>
<polygon points="246.45,261.6 275.47,214.43 274.69,213.95" fill-opacity="0.40"/>
<polygon points="246.45,261.6 274.81,214.02 274.02,213.56" fill-opacity="0.36"/>
<polygon points="246.45,261.6 273.89,214.07 273.1,213.62" fill-opacity="0.32"/>
<polygon points="246.45,261.6 275.65,209.36 274.78,208.88" fill-opacity="0.36"/>
<polygon points="246.45,261.6 278.03,203.19 277.06,202.67" fill-opacity="0.40"/>
<polygon points="246.45,261.6 276.42,204.28 275.46,203.79" fill-opacity="0.48"/>
<polygon points="246.45,261.6 278.09,198.96 277.05,198.44" fill-opacity="0.41"/>
<polygon points="246.45,261.6 276.33,200.34 275.31,199.86" fill-opacity="0.38"/>
<polygon points="246.45,261.6 275.2,200.5 274.19,200.03" fill-opacity="0.39"/>
<polygon points="246.45,261.6 273.95,200.98 272.94,200.53" fill-opacity="0.38"/>
<polygon points="246.45,261.6 275.38,195.39 274.27,194.92" fill-opacity="0.38"/>
<polygon points="246.45,261.6 272.44,199.78 271.41,199.35" fill-opacity="0.32"/>
<polygon points="246.45,261.6 272.36,197.46 271.3,197.04" fill-opacity="0.29"/>
<polygon points="246.45,261.6 272.45,194.56 271.34,194.13" fill-opacity="0.27"/>
<polygon points="246.45,261.6 273.62,188.55 272.4,188.11" fill-opacity="0.21"/>
<polygon points="246.45,261.6 270.68,193.54 269.55,193.15" fill-opacity="0.19"/>
<polygon points="246.45,261.6 271.28,188.65 270.07,188.25" fill-opacity="0.19"/>
<polygon points="246.45,261.6 270.91,186.31 269.66,185.92" fill-opacity="0.22"/>
<polygon points="246.45,261.6 271.24,181.5 269.91,181.1" fill-opacity="0.29"/>
<polygon points="246.45,261.6 270.58,179.62 269.22,179.23" fill-opacity="0.29"/>
<polygon points="246.45,261.6 270.25,176.35 268.83,175.97" fill-opacity="0.28"/>
<polygon points="246.45,261.6 268.13,179.54 266.77,179.19" fill-opacity="0.24"/>
<polygon points="246.45,261.6 267.82,175.9 266.39,175.56" fill-opacity="0.34"/>
<polygon points="246.45,261.6 266.73,175.15 265.29,174.83" fill-opacity="0.48"/>
<polygon points="246.45,261.6 266.67,169.65 265.14,169.33" fill-opacity="0.33"/>
<polygon points="246.45,261.6 265.24,170.07 263.72,169.77" fill-opacity="0.26"/>
<polygon points="246.45,261.6 262.02,180 260.66,179.76" fill-opacity="0.23"/>
<polygon points="246.45,261.6 260.62,181.24 259.29,181.02" fill-opacity="0.22"/>
<polygon points="246.45,261.6 259.42,181.5 258.09,181.3" fill-opacity="0.26"/>
<polygon points="246.45,261.6 258.27,181.57 256.94,181.39" fill-opacity="0.49"/>
<polygon points="246.45,261.6 257.31,180.22 255.96,180.05" fill-opacity="0.70"/>
<polygon points="246.45,261.6 256.06,181.02 254.72,180.88" fill-opacity="0.81"/>
<polygon points="246.45,261.6 254.4,186.01 253.14,185.89" fill-opacity="0.63"/>
<polygon points="246.45,261.6 252.99,189.74 251.8,189.64" fill-opacity="0.46"/>
<polygon points="246.45,261.6 252.26,186.14 251,186.05" fill-opacity="0.34"/>
<polygon points="246.45,261.6 251.32,184.23 250.03,184.16" fill-opacity="0.27"/>
<polygon points="246.45,261.6 250.56,177.53 249.17,177.48" fill-opacity="0.24"/>
<polygon points="246.45,261.6 249.73,167.53 248.17,167.49" fill-opacity="0.33"/>
<polygon points="246.45,261.6 248.48,164.91 246.87,164.89" fill-opacity="0.30"/>
<polygon points="246.45,261.6 247.14,163.42 245.51,163.42" fill-opacity="0.21"/>
<polygon points="246.45,261.6 245.75,161.75 244.1,161.77" fill-opacity="0.26"/>
<polygon points="246.45,261.6 244.36,161.85 242.71,161.89" fill-opacity="0.39"/>
<polygon points="246.45,261.6 243.27,170.44 241.76,170.51" fill-opacity="0.47"/>
<polygon points="246.45,261.6 241.58,162.07 239.93,162.17" fill-opacity="0.52"/>
<polygon points="246.45,261.6 240.35,164.69 238.75,164.8" fill-opacity="0.45"/>
<polygon points="246.45,261.6 238.96,164.21 237.34,164.35" fill-opacity="0.34"/>
<polygon points="246.45,261.6 237.65,164.96 236.05,165.12" fill-opacity="0.25"/>
<polygon points="246.45,261.6 236.74,169.18 235.21,169.36" fill-opacity="0.21"/>
<polygon points="246.45,261.6 235.37,168.64 233.83,168.84" fill-opacity="0.23"/>
<polygon points="246.45,261.6 234.44,171.59 232.95,171.8" fill-opacity="0.30"/>
<polygon points="246.45,261.6 232.22,165.22 230.62,165.47" fill-opacity="0.55"/>
<polygon points="246.45,261.6 231.91,171.81 230.42,172.06" fill-opacity="0.70"/>
<polygon points="246.45,261.6 230.65,171.99 229.17,172.26" fill-opacity="0.72"/>
<polygon points="246.45,261.6 229.12,170.74 227.61,171.04" fill-opacity="0.58"/>
<polygon points="246.45,261.6 227.99,171.69 226.51,172.01" fill-opacity="0.45"/>
<polygon points="246.45,261.6 226.33,170.09 224.82,170.44" fill-opacity="0.32"/>
<polygon points="246.45,261.6 225.83,173.67 224.37,174.02" fill-opacity="0.36"/>
<polygon points="246.45,261.6 224.65,174.15 223.2,174.52" fill-opacity="0.46"/>
<polygon points="246.45,261.6 222.53,171.05 221.03,171.46" fill-opacity="0.36"/>
<polygon points="246.45,261.6 220.74,169.5 219.21,169.94" fill-opacity="0.33"/>
<polygon points="246.45,261.6 217.77,164.15 216.16,164.64" fill-opacity="0.39"/>
<polygon points="246.45,261.6 217.03,166.57 215.46,167.07" fill-opacity="0.41"/>
<polygon points="246.45,261.6 212.04,155.69 210.28,156.27" fill-opacity="0.44"/>
<polygon points="246.45,261.6 212.1,160.71 210.43,161.29" fill-opacity="0.44"/>
<polygon points="246.45,261.6 213.85,170.06 212.34,170.61" fill-opacity="0.43"/>
<polygon points="246.45,261.6 213.7,173.54 212.24,174.09" fill-opacity="0.36"/>
<polygon points="246.45,261.6 213.64,177 212.24,177.56" fill-opacity="0.44"/>
<polygon points="246.45,261.6 213.48,179.99 212.13,180.55" fill-opacity="0.50"/>
<polygon points="246.45,261.6 213.5,183.21 212.2,183.77" fill-opacity="0.39"/>
<polygon points="246.45,261.6 208.54,174.84 207.11,175.48" fill-opacity="0.33"/>
<polygon points="246.45,261.6 205.41,171.14 203.92,171.83" fill-opacity="0.30"/>
<polygon points="246.45,261.6 205.33,174.21 203.88,174.9" fill-opacity="0.29"/>
<polygon points="246.45,261.6 202.79,172.08 201.31,172.82" fill-opacity="0.29"/>
<polygon points="246.45,261.6 203.05,175.69 201.63,176.42" fill-opacity="0.34"/>
<polygon points="246.45,261.6 201.94,176.46 200.53,177.21" fill-opacity="0.30"/>
<polygon points="246.45,261.6 200.31,176.26 198.9,177.04" fill-opacity="0.27"/>
<polygon points="246.45,261.6 200.95,180.19 199.61,180.95" fill-opacity="0.27"/>
<polygon points="246.45,261.6 198.12,177.89 196.74,178.7" fill-opacity="0.39"/>
<polygon points="246.45,261.6 201.98,187 200.75,187.75" fill-opacity="0.62"/>
<polygon points="246.45,261.6 202.16,189.61 200.97,190.35" fill-opacity="0.69"/>
<polygon points="246.45,261.6 195.45,181.24 194.13,182.1" fill-opacity="0.60"/>
<polygon points="246.45,261.6 196.19,184.8 194.92,185.64" fill-opacity="0.40"/>
<polygon points="246.45,261.6 196.68,187.81 195.46,188.65" fill-opacity="0.32"/>
<polygon points="246.45,261.6 192.31,183.7 191.03,184.61" fill-opacity="0.35"/>
<polygon points="246.45,261.6 194.21,188.63 193,189.5" fill-opacity="0.39"/>
<polygon points="246.45,261.6 189.71,184.63 188.44,185.58" fill-opacity="0.49"/>
<polygon points="246.45,261.6 185.29,181.03 183.97,182.06" fill-opacity="0.54"/>
<polygon points="246.45,261.6 184.65,182.5 183.35,183.54" fill-opacity="0.65"/>
<polygon points="246.45,261.6 184.39,184.42 183.12,185.45" fill-opacity="0.65"/>
<polygon points="246.45,261.6 186.28,188.87 185.08,189.88" fill-opacity="0.32"/>
<polygon points="246.45,261.6 184.36,188.64 183.16,189.68" fill-opacity="0.24"/>
<polygon points="246.45,261.6 185.39,191.85 184.24,192.87" fill-opacity="0.27"/>
<polygon points="246.45,261.6 181.13,189.06 179.94,190.15" fill-opacity="0.33"/>
<polygon points="246.45,261.6 183.87,194.02 182.76,195.06" fill-opacity="0.47"/>
<polygon points="246.45,261.6 182.97,194.94 181.87,196" fill-opacity="0.55"/>
<polygon points="246.45,261.6 186.78,200.67 185.78,201.67" fill-opacity="0.59"/>
<polygon points="246.45,261.6 187.48,203.04 186.51,204.02" fill-opacity="0.54"/>
<polygon points="246.45,261.6 183.37,200.68 182.37,201.74" fill-opacity="0.64"/>
<polygon points="246.45,261.6 182.92,201.94 181.94,203" fill-opacity="0.67"/>
<polygon points="246.45,261.6 184.92,205.42 184,206.44" fill-opacity="0.58"/>
<polygon points="246.45,261.6 186.18,208.09 185.3,209.1" fill-opacity="0.53"/>
<polygon points="246.45,261.6 186.56,209.9 185.71,210.9" fill-opacity="0.47"/>
<polygon points="246.45,261.6 202.43,224.66 201.82,225.39" fill-opacity="0.29"/>
<polygon points="246.45,261.6 234.76,252.07 234.61,252.26" fill-opacity="0.08"/>
<polygon points="246.45,261.6 216.93,261.19 216.93,261.68" fill-opacity="0.17"/>
<polygon points="246.45,261.6 175.02,261.6 175.02,262.78" fill-opacity="0.34"/>
<polygon points="246.45,261.6 174.92,262.6 174.95,263.78" fill-opacity="0.29"/>
<polygon points="246.45,261.6 178.72,263.49 178.76,264.61" fill-opacity="0.41"/>
<polygon points="246.45,261.6 174.27,264.63 174.33,265.82" fill-opacity="0.44"/>
<polygon points="246.45,261.6 180.5,265.29 180.57,266.38" fill-opacity="0.44"/>
<polygon points="246.45,261.6 183.88,265.98 183.96,267.01" fill-opacity="0.45"/>
<polygon points="246.45,261.6 181.44,267.06 181.54,268.14" fill-opacity="0.50"/>
<polygon points="246.45,261.6 185.55,267.57 185.66,268.58" fill-opacity="0.68"/>
<polygon points="246.45,261.6 182.87,268.73 183,269.78" fill-opacity="0.65"/>
<polygon points="246.45,261.6 183.85,269.51 183.99,270.55" fill-opacity="0.54"/>
<polygon points="246.45,261.6 188.88,269.69 189.02,270.64" fill-opacity="0.32"/>
<polygon points="246.45,261.6 188.95,270.5 189.11,271.45" fill-opacity="0.26"/>
<polygon points="246.45,261.6 188.86,271.34 189.02,272.29" fill-opacity="0.31"/>
<polygon points="246.45,261.6 189.47,272.06 189.66,273" fill-opacity="0.24"/>
<polygon points="246.45,261.6 187.3,273.31 187.5,274.29" fill-opacity="0.19"/>
<polygon points="246.45,261.6 189.91,273.62 190.11,274.55" fill-opacity="0.23"/>
<polygon points="246.45,261.6 189.06,274.64 189.29,275.59" fill-opacity="0.23"/>
<polygon points="246.45,261.6 191.33,274.93 191.56,275.85" fill-opacity="0.18"/>
<polygon points="246.45,261.6 186.28,277.05 186.54,278.05" fill-opacity="0.21"/>
<polygon points="246.45,261.6 191.08,276.64 191.34,277.56" fill-opacity="0.25"/>
<polygon points="246.45,261.6 191.52,277.35 191.79,278.26" fill-opacity="0.34"/>
<polygon points="246.45,261.6 191.82,278.09 192.1,279" fill-opacity="0.44"/>
<polygon points="246.45,261.6 190.78,279.26 191.08,280.18" fill-opacity="0.53"/>
<polygon points="246.45,261.6 194.64,278.83 194.93,279.69" fill-opacity="0.45"/>
<polygon points="246.45,261.6 191.63,280.69 191.96,281.6" fill-opacity="0.42"/>
<polygon points="246.45,261.6 194.03,280.68 194.35,281.55" fill-opacity="0.54"/>
<polygon points="246.45,261.6 193.54,281.7 193.88,282.57" fill-opacity="0.54"/>
<polygon points="246.45,261.6 193.55,282.54 193.91,283.42" fill-opacity="0.49"/>
<polygon points="246.45,261.6 197.23,281.89 197.58,282.7" fill-opacity="0.49"/>
<polygon points="246.45,261.6 195.14,283.59 195.51,284.44" fill-opacity="0.43"/>
<polygon points="246.45,261.6 196.69,283.76 197.06,284.58" fill-opacity="0.45"/>
<polygon points="246.45,261.6 197.81,284.07 198.19,284.88" fill-opacity="0.39"/>
<polygon points="246.45,261.6 194.03,286.71 194.46,287.58" fill-opacity="0.35"/>
<polygon points="246.45,261.6 199.41,284.95 199.8,285.73" fill-opacity="0.21"/>
<polygon points="246.45,261.6 199.84,285.55 200.24,286.32" fill-opacity="0.19"/>
<polygon points="246.45,261.6 200.5,286.03 200.91,286.79" fill-opacity="0.21"/>
<polygon points="246.45,261.6 203.14,285.41 203.54,286.13" fill-opacity="0.21"/>
<polygon points="246.45,261.6 205.96,284.6 206.35,285.27" fill-opacity="0.19"/>
<polygon points="246.45,261.6 206.81,284.86 207.2,285.51" fill-opacity="0.13"/>
<polygon points="246.45,261.6 214.98,280.66 215.31,281.17" fill-opacity="0.12"/>
<polygon points="246.45,261.6 225.17,274.9 225.39,275.25" fill-opacity="0.11"/>
<polygon points="246.45,261.6 236.97,267.71 237.08,267.86" fill-opacity="0.06"/>
<polygon points="246.45,261.6 243.96,267.52 244.06,267.57" fill-opacity="0.09"/>
<polygon points="246.45,261.6 239.25,279.42 239.55,279.53" fill-opacity="0.23"/>
<polygon points="246.45,261.6 238.96,280.91 239.28,281.03" fill-opacity="0.24"/>
<polygon points="246.45,261.6 239.4,280.56 239.71,280.68" fill-opacity="0.27"/>
<polygon points="246.45,261.6 239.43,281.3 239.76,281.42" fill-opacity="0.23"/>
<polygon points="246.45,261.6 239.56,281.83 239.9,281.94" fill-opacity="0.21"/>
<polygon points="246.45,261.6 239.81,282.03 240.15,282.14" fill-opacity="0.19"/>
<polygon points="246.45,261.6 240.05,282.27 240.39,282.38" fill-opacity="0.19"/>
<polygon points="246.45,261.6 240.2,282.85 240.55,282.95" fill-opacity="0.21"/>
<polygon points="246.45,261.6 240.25,283.79 240.62,283.89" fill-opacity="0.15"/>
<polygon points="246.45,261.6 240.72,283.28 241.08,283.37" fill-opacity="0.16"/>
<polygon points="246.45,261.6 240.76,284.41 241.14,284.5" fill-opacity="0.25"/>
<polygon points="246.45,261.6 241.04,284.67 241.42,284.76" fill-opacity="0.27"/>
<polygon points="246.45,261.6 241.42,284.49 241.8,284.57" fill-opacity="0.35"/>
<polygon points="246.45,261.6 241.58,285.34 241.97,285.41" fill-opacity="0.51"/>
<polygon points="246.45,261.6 241.76,286.17 242.17,286.24" fill-opacity="0.60"/>
<polygon points="246.45,261.6 242.08,286.4 242.49,286.47" fill-opacity="0.60"/>
<polygon points="246.45,261.6 242.48,286.11 242.89,286.18" fill-opacity="0.45"/>
<polygon points="246.45,261.6 242.57,287.9 243,287.96" fill-opacity="0.38"/>
<polygon points="246.45,261.6 242.93,287.99 243.37,288.04" fill-opacity="0.37"/>
<polygon points="246.45,261.6 243.22,288.66 243.67,288.71" fill-opacity="0.36"/>
<polygon points="246.45,261.6 243.71,287.65 244.14,287.7" fill-opacity="0.32"/>
<polygon points="246.45,261.6 244.02,288.27 244.47,288.31" fill-opacity="0.32"/>
<polygon points="246.45,261.6 244.4,288.26 244.84,288.29" fill-opacity="0.33"/>
<polygon points="246.45,261.6 244.67,289.84 245.14,289.87" fill-opacity="0.45"/>
<polygon points="246.45,261.6 245.09,289.35 245.55,289.36" fill-opacity="0.51"/>
<polygon points="246.45,261.6 245.48,289.45 245.94,289.46" fill-opacity="0.56"/>
<polygon points="246.45,261.6 245.85,290.29 246.32,290.3" fill-opacity="0.47"/>
<polygon points="246.45,261.6 246.24,291.49 246.74,291.49" fill-opacity="0.47"/>
<polygon points="246.45,261.6 246.66,291.66 247.16,291.66" fill-opacity="0.51"/>
<polygon points="246.45,261.6 247.07,290.99 247.55,290.98" fill-opacity="0.54"/>
<polygon points="246.45,261.6 247.5,291.54 247.99,291.52" fill-opacity="0.54"/>
<polygon points="246.45,261.6 248.04,294.16 248.58,294.13" fill-opacity="0.46"/>
<polygon points="246.45,261.6 248.53,294.67 249.08,294.64" fill-opacity="0.59"/>
<polygon points="246.45,261.6 249.11,296.11 249.68,296.06" fill-opacity="0.78"/>
<polygon points="246.45,261.6 249.58,295.99 250.15,295.93" fill-opacity="0.79"/>
<polygon points="246.45,261.6 250.17,297.03 250.76,296.97" fill-opacity="0.78"/>
<polygon points="246.45,261.6 250.98,299.56 251.6,299.48" fill-opacity="0.73"/>
<polygon points="246.45,261.6 251.58,300.08 252.22,299.99" fill-opacity="0.78"/>
<polygon points="246.45,261.6 252.17,300.35 252.81,300.25" fill-opacity="0.82"/>
<polygon points="246.45,261.6 253.24,303.54 253.94,303.42" fill-opacity="0.72"/>
<polygon points="246.45,261.6 253.91,303.89 254.61,303.76" fill-opacity="0.57"/>
<polygon points="246.45,261.6 254.81,305.4 255.53,305.26" fill-opacity="0.42"/>
<polygon points="246.45,261.6 255.27,304.58 255.98,304.43" fill-opacity="0.33"/>
<polygon points="246.45,261.6 256.64,307.95 257.41,307.78" fill-opacity="0.34"/>
<polygon points="246.45,261.6 257.11,307.05 257.86,306.87" fill-opacity="0.42"/>
<polygon points="246.45,261.6 258.66,310.58 259.47,310.37" fill-opacity="0.52"/>
<polygon points="246.45,261.6 259.41,310.64 260.22,310.42" fill-opacity="0.57"/>
<polygon points="246.45,261.6 260.39,311.52 261.21,311.28" fill-opacity="0.51"/>
<polygon points="246.45,261.6 261.69,313.38 262.54,313.12" fill-opacity="0.56"/>
<polygon points="246.45,261.6 263.21,315.75 264.11,315.46" fill-opacity="0.79"/>
<polygon points="246.45,261.6 263.92,315.37 264.81,315.07" fill-opacity="0.65"/>
<polygon points="246.45,261.6 265.36,317.14 266.27,316.81" fill-opacity="0.50"/>
<polygon points="246.45,261.6 267.51,320.73 268.48,320.37" fill-opacity="0.37"/>
<polygon points="246.45,261.6 268.87,321.87 269.86,321.49" fill-opacity="0.32"/>
<polygon points="246.45,261.6 270.27,323 271.28,322.6" fill-opacity="0.34"/>
<polygon points="246.45,261.6 272.7,326.57 273.77,326.13" fill-opacity="0.33"/>
<polygon points="246.45,261.6 274.09,327.35 275.18,326.88" fill-opacity="0.38"/>
<polygon points="246.45,261.6 275.28,327.6 276.37,327.11" fill-opacity="0.51"/>
<polygon points="246.45,261.6 275.47,325.57 276.52,325.08" fill-opacity="0.53"/>
<polygon points="246.45,261.6 274.79,321.83 275.78,321.35" fill-opacity="0.48"/>
<polygon points="246.45,261.6 275.71,321.59 276.7,321.1" fill-opacity="0.38"/>
<polygon points="246.45,261.6 274.16,316.46 275.07,316" fill-opacity="0.33"/>
<polygon points="246.45,261.6 276.25,318.6 277.19,318.09" fill-opacity="0.35"/>
<polygon points="246.45,261.6 277.01,318.12 277.94,317.61" fill-opacity="0.34"/>
<polygon points="246.45,261.6 280.01,321.66 281.01,321.09" fill-opacity="0.32"/>
<polygon points="246.45,261.6 280.8,321.1 281.78,320.52" fill-opacity="0.29"/>
<polygon points="246.45,261.6 283.6,323.91 284.62,323.29" fill-opacity="0.31"/>
<polygon points="246.45,261.6 283.67,322.11 284.67,321.48" fill-opacity="0.38"/>
<polygon points="246.45,261.6 287.53,326.33 288.6,325.64" fill-opacity="0.29"/>
<polygon points="246.45,261.6 286.41,322.66 287.41,321.99" fill-opacity="0.25"/>
<polygon points="246.45,261.6 284.13,317.46 285.05,316.83" fill-opacity="0.27"/>
<polygon points="246.45,261.6 284.98,317.04 285.9,316.39" fill-opacity="0.35"/>
<polygon points="246.45,261.6 287.07,318.34 288.01,317.66" fill-opacity="0.52"/>
<polygon points="246.45,261.6 284.08,312.64 284.92,312.01" fill-opacity="0.68"/>
<polygon points="246.45,261.6 290.23,319.28 291.18,318.55" fill-opacity="0.71"/>
<polygon points="246.45,261.6 292.01,319.91 292.97,319.15" fill-opacity="0.48"/>
<polygon points="246.45,261.6 296.5,323.85 297.53,323.02" fill-opacity="0.31"/>
<polygon points="246.45,261.6 302.39,329.22 303.5,328.28" fill-opacity="0.22"/>
<polygon points="246.45,261.6 301.78,326.61 302.85,325.69" fill-opacity="0.31"/>
<polygon points="246.45,261.6 303.42,326.68 304.5,325.73" fill-opacity="0.30"/>
<polygon points="246.45,261.6 305.26,326.91 306.33,325.93" fill-opacity="0.24"/>
<polygon points="246.45,261.6 307.75,327.8 308.84,326.77" fill-opacity="0.21"/>
<polygon points="246.45,261.6 303.65,321.66 304.63,320.7" fill-opacity="0.19"/>
<polygon points="246.45,261.6 307.65,324.1 308.68,323.07" fill-opacity="0.21"/>
<polygon points="246.45,261.6 307.55,322.28 308.55,321.25" fill-opacity="0.29"/>
<polygon points="246.45,261.6 308.52,321.54 309.5,320.5" fill-opacity="0.41"/>
<polygon points="246.45,261.6 308.8,320.15 309.77,319.11" fill-opacity="0.49"/>
<polygon points="246.45,261.6 310.57,320.15 311.53,319.08" fill-opacity="0.48"/>
<polygon points="246.45,261.6 310.25,318.24 311.18,317.17" fill-opacity="0.44"/>
<polygon points="246.45,261.6 312.38,318.51 313.32,317.41" fill-opacity="0.42"/>
<polygon points="246.45,261.6 312.63,317.13 313.54,316.03" fill-opacity="0.42"/>
<polygon points="246.45,261.6 318.56,320.41 319.52,319.21" fill-opacity="0.64"/>
<polygon points="246.45,261.6 314.39,315.45 315.27,314.32" fill-opacity="0.60"/>
<polygon points="246.45,261.6 313.49,313.23 314.34,312.11" fill-opacity="0.49"/>
<polygon points="246.45,261.6 312.86,311.28 313.67,310.17" fill-opacity="0.34"/>
<polygon points="246.45,261.6 319.72,314.83 320.59,313.61" fill-opacity="0.32"/>
<polygon points="246.45,261.6 320.97,314.17 321.83,312.93" fill-opacity="0.46"/>
<polygon points="246.45,261.6 320.59,312.36 321.42,311.13" fill-opacity="0.58"/>
<polygon points="246.45,261.6 318.61,309.54 319.4,308.34" fill-opacity="0.69"/>
<polygon points="246.45,261.6 319.66,308.78 320.43,307.56" fill-opacity="0.52"/>
<polygon points="246.45,261.6 321.29,308.36 322.05,307.12" fill-opacity="0.34"/>
<polygon points="246.45,261.6 323.49,308.26 324.25,306.97" fill-opacity="0.20"/>
<polygon points="246.45,261.6 320.09,304.8 320.79,303.58" fill-opacity="0.19"/>
<polygon points="246.45,261.6 321.18,304.05 321.87,302.81" fill-opacity="0.21"/>
<polygon points="246.45,261.6 317.65,300.74 318.29,299.55" fill-opacity="0.23"/>
<polygon points="246.45,261.6 322.14,301.85 322.8,300.59" fill-opacity="0.28"/>
<polygon points="246.45,261.6 321.52,300.18 322.15,298.93" fill-opacity="0.37"/>
<polygon points="246.45,261.6 318.72,297.47 319.3,296.27" fill-opacity="0.32"/>
<polygon points="246.45,261.6 318.28,296.01 318.84,294.82" fill-opacity="0.30"/>
<polygon points="246.45,261.6 327.94,299.25 328.55,297.9" fill-opacity="0.28"/>
<polygon points="246.45,261.6 324.8,296.48 325.37,295.18" fill-opacity="0.30"/>
<polygon points="246.45,261.6 327.63,296.4 328.2,295.04" fill-opacity="0.32"/>
<polygon points="246.45,261.6 325.07,294 325.59,292.7" fill-opacity="0.25"/>
<polygon points="246.45,261.6 328.72,294.17 329.25,292.8" fill-opacity="0.27"/>
<polygon points="246.45,261.6 328.8,292.88 329.3,291.51" fill-opacity="0.38"/>
<polygon points="246.45,261.6 327.92,291.25 328.4,289.9" fill-opacity="0.38"/>
<polygon points="246.45,261.6 323.91,288.57 324.35,287.29" fill-opacity="0.35"/>
<polygon points="246.45,261.6 326.28,288.16 326.71,286.83" fill-opacity="0.29"/>
<polygon points="246.45,261.6 321.37,285.37 321.75,284.12" fill-opacity="0.25"/>
<polygon points="246.45,261.6 322.68,284.61 323.05,283.35" fill-opacity="0.22"/>
<polygon points="246.45,261.6 319.01,282.41 319.35,281.2" fill-opacity="0.20"/>
<polygon points="246.45,261.6 319.58,281.47 319.9,280.25" fill-opacity="0.19"/>
<polygon points="246.45,261.6 314.64,279.11 314.92,277.98" fill-opacity="0.17"/>
<polygon points="246.45,261.6 313.77,277.89 314.03,276.77" fill-opacity="0.18"/>
<polygon points="246.45,261.6 317.39,277.72 317.65,276.54" fill-opacity="0.20"/>
<polygon points="246.45,261.6 319.86,277.2 320.11,275.98" fill-opacity="0.22"/>
<polygon points="246.45,261.6 327.32,277.61 327.58,276.27" fill-opacity="0.25"/>
<polygon points="246.45,261.6 330.91,277.1 331.15,275.7" fill-opacity="0.32"/>
<polygon points="246.45,261.6 336.27,276.79 336.51,275.3" fill-opacity="0.46"/>
<polygon points="246.45,261.6 336.17,275.49 336.39,274" fill-opacity="0.61"/>
<polygon points="246.45,261.6 335.16,274.07 335.35,272.59" fill-opacity="0.52"/>
<polygon points="246.45,261.6 333.54,272.6 333.71,271.16" fill-opacity="0.53"/>
<polygon points="246.45,261.6 324.88,270.4 325.02,269.1" fill-opacity="0.60"/>
<polygon points="246.45,261.6 320.99,268.91 321.1,267.67" fill-opacity="0.66"/>
<polygon points="246.45,261.6 325.01,268.2 325.11,266.89" fill-opacity="0.69"/>
<polygon points="246.45,261.6 317.24,266.55 317.31,265.38" fill-opacity="0.66"/>
<polygon points="246.45,261.6 321.67,265.81 321.73,264.56" fill-opacity="0.52"/>
<polygon points="246.45,261.6 319.85,264.68 319.89,263.46" fill-opacity="0.38"/>
<polygon points="246.45,261.6 313.51,263.47 313.53,262.36" fill-opacity="0.56"/>
<polygon points="246.45,261.6 319.36,262.62 319.37,261.41" fill-opacity="0.58"/>
</g>
<rect x="210.87" y="150.45" width="1" height="1" fill="#0c0c0c"/>
<rect x="153.24" y="357.91" width="2" height="2" fill="#0e0e0e"/>
<rect x="257.87" y="335.9" width="2" height="2" fill="#0b0b0b"/>
<rect x="135.1" y="343.96" width="1" height="1" fill="#131313"/>
<rect x="354.86" y="368.45" width="2" height="2" fill="#171717"/>
<rect x="380.38" y="155.09" width="1" height="1" fill="#111111"/>
<rect x="376.11" y="201.86" width="1" height="1" fill="#151515"/>
<rect x="234.98" y="225.51" width="1" height="1" fill="#0e0e0e"/>
<rect x="218.74" y="210.65" width="1" height="1" fill="#181818"/>
<rect x="232.4" y="409.93" width="2" height="2" fill="#131313"/>
<rect x="423.07" y="208.8" width="1" height="1" fill="#0d0d0d"/>
<rect x="338.15" y="240" width="1" height="1" fill="#181818"/>
<rect x="410.92" y="321.01" width="1" height="1" fill="#0a0a0a"/>
<rect x="69.83" y="251.86" width="2" height="2" fill="#171717"/>
<rect x="91.27" y="233.96" width="1" height="1" fill="#0b0b0b"/>
<rect x="175.98" y="78.4" width="1" height="1" fill="#0f0f0f"/>
<rect x="255.12" y="150.71" width="1" height="1" fill="#161616"/>
<rect x="298.48" y="240.47" width="2" height="2" fill="#121212"/>
<rect x="366.91" y="123.13" width="2" height="2" fill="#151515"/>
<rect x="402.87" y="124.82" width="1" height="1" fill="#171717"/>
<rect x="286.48" y="227.62" width="1" height="1" fill="#0b0b0b"/>
<rect x="114.43" y="140.83" width="2" height="2" fill="#0c0c0c"/>
<rect x="115.11" y="153.23" width="1.5" height="1.5" fill="#121212"/>
<rect x="346.7" y="372.03" width="1.5" height="1.5" fill="#171717"/>
<rect x="104.63" y="381.06" width="1" height="1" fill="#0c0c0c"/>
<rect x="246.91" y="80.43" width="1" height="1" fill="#171717"/>
<rect x="186.22" y="216.01" width="2" height="2" fill="#0f0f0f"/>
<rect x="204.19" y="377.85" width="1" height="1" fill="#121212"/>
<rect x="128.34" y="90.23" width="2" height="2" fill="#0f0f0f"/>
<rect x="346.79" y="161.62" width="1" height="1" fill="#171717"/>
<rect x="303.27" y="191.43" width="1.5" height="1.5" fill="#171717"/>
<rect x="142.19" y="376.22" width="1" height="1" fill="#141414"/>
<rect x="203.31" y="238.67" width="2" height="2" fill="#0b0b0b"/>
<rect x="217.22" y="412.68" width="1.5" height="1.5" fill="#0b0b0b"/>
<rect x="397.32" y="400.42" width="2" height="2" fill="#161616"/>
<rect x="258.77" y="420.9" width="2" height="2" fill="#0e0e0e"/>
<rect x="387.82" y="228" width="1" height="1" fill="#141414"/>
<rect x="165.79" y="327.66" width="2" height="2" fill="#131313"/>
<rect x="133.25" y="201.14" width="1.5" height="1.5" fill="#0d0d0d"/>
<rect x="62.8" y="207.97" width="1" height="1" fill="#0e0e0e"/>
<rect x="391.44" y="323.79" width="1.5" height="1.5" fill="#161616"/>
<rect x="304.68" y="351.66" width="1" height="1" fill="#171717"/>
<rect x="212.46" y="395.67" width="2" height="2" fill="#141414"/>
<rect x="62.54" y="262.21" width="1" height="1" fill="#0d0d0d"/>
<rect x="254.64" y="428.33" width="1" height="1" fill="#151515"/>
<rect x="250.57" y="374.93" width="1" height="1" fill="#181818"/>
<rect x="158.98" y="391.85" width="2" height="2" fill="#101010"/>
<rect x="268.82" y="308.29" width="1.5" height="1.5" fill="#161616"/>
<rect x="135.41" y="83.94" width="1.5" height="1.5" fill="#0b0b0b"/>
<rect x="89.2" y="88.14" width="2" height="2" fill="#0a0a0a"/>
<rect x="172.25" y="436.08" width="1.5" height="1.5" fill="#141414"/>
<rect x="133.08" y="113.4" width="2" height="2" fill="#171717"/>
<rect x="208.82" y="140.14" width="1.5" height="1.5" fill="#111111"/>
<rect x="108.8" y="124.72" width="2" height="2" fill="#111111"/>
<rect x="216.13" y="429.98" width="1.5" height="1.5" fill="#0c0c0c"/>
<rect x="153.89" y="177.69" width="2" height="2" fill="#131313"/>
<rect x="129.25" y="414.54" width="2" height="2" fill="#111111"/>
<rect x="307.59" y="439.65" width="1" height="1" fill="#121212"/>
<rect x="430.66" y="270.19" width="1.5" height="1.5" fill="#0b0b0b"/>
<rect x="356.22" y="103.04" width="1" height="1" fill="#141414"/>
<rect x="272.24" y="273.83" width="1" height="1" fill="#141414"/>
<rect x="277.18" y="229.71" width="1" height="1" fill="#0c0c0c"/>
<rect x="279.11" y="93.9" width="1" height="1" fill="#0a0a0a"/>
<rect x="188.06" y="161.52" width="1.5" height="1.5" fill="#161616"/>
<rect x="119.93" y="239.02" width="2" height="2" fill="#151515"/>
<rect x="146.27" y="146.15" width="1" height="1" fill="#111111"/>
<rect x="162.27" y="319.72" width="1" height="1" fill="#0b0b0b"/>
<rect x="348.56" y="140.65" width="1" height="1" fill="#0f0f0f"/>
<rect x="336.64" y="118.39" width="1" height="1" fill="#0c0c0c"/>
<rect x="116.85" y="108.36" width="2" height="2" fill="#161616"/>
<rect x="122.91" y="399.05" width="1" height="1" fill="#151515"/>
<rect x="289.05" y="358.16" width="1" height="1" fill="#131313"/>
<rect x="187.2" y="95.87" width="2" height="2" fill="#0f0f0f"/>
<rect x="130.85" y="142.85" width="1" height="1" fill="#0b0b0b"/>
<rect x="245.17" y="434.54" width="1" height="1" fill="#151515"/>
<rect x="146.82" y="416.07" width="1" height="1" fill="#161616"/>
<rect x="351.21" y="443.15" width="2" height="2" fill="#131313"/>
<rect x="332.78" y="299.57" width="1" height="1" fill="#181818"/>
<rect x="385.92" y="136.13" width="1" height="1" fill="#181818"/>
<rect x="347.98" y="214.58" width="1" height="1" fill="#0f0f0f"/>
<rect x="277.7" y="83.85" width="1" height="1" fill="#0c0c0c"/>
<rect x="410.82" y="402.78" width="1.5" height="1.5" fill="#161616"/>
<rect x="168.68" y="258.8" width="1" height="1" fill="#161616"/>
<rect x="76.13" y="137.06" width="1.5" height="1.5" fill="#141414"/>
<rect x="374.86" y="322.38" width="1" height="1" fill="#161616"/>
<rect x="200.75" y="176.61" width="1" height="1" fill="#0d0d0d"/>
<rect x="318.19" y="83.17" width="1.5" height="1.5" fill="#171717"/>
<rect x="334.98" y="231.62" width="1" height="1" fill="#151515"/>
<rect x="125.72" y="226.87" width="1" height="1" fill="#0a0a0a"/>
<rect x="150.77" y="172.58" width="1" height="1" fill="#171717"/>
<rect x="222.26" y="285.9" width="1" height="1" fill="#0a0a0a"/>
<rect x="110.02" y="429.62" width="1.5" height="1.5" fill="#141414"/>
<rect x="83.9" y="402.49" width="2" height="2" fill="#0c0c0c"/>
<rect x="116.35" y="421.95" width="2" height="2" fill="#0a0a0a"/>
<rect x="408.34" y="438.25" width="1" height="1" fill="#0b0b0b"/>
<rect x="279.14" y="202.79" width="2" height="2" fill="#0c0c0c"/>
<rect x="400.92" y="110.02" width="1" height="1" fill="#121212"/>
<rect x="147.39" y="288.61" width="1" height="1" fill="#0d0d0d"/>
<rect x="222.86" y="151.04" width="1" height="1" fill="#161616"/>
<rect x="111.07" y="349.86" width="1" height="1" fill="#0d0d0d"/>
<rect x="372.75" y="171.37" width="1" height="1" fill="#141414"/>
<rect x="148.17" y="270.68" width="2" height="2" fill="#141414"/>
<rect x="207.71" y="284.36" width="1.5" height="1.5" fill="#0d0d0d"/>
<rect x="181.26" y="285.54" width="1" height="1" fill="#111111"/>
<rect x="97.15" y="308.98" width="2" height="2" fill="#0a0a0a"/>
<rect x="84.23" y="146.57" width="1.5" height="1.5" fill="#0a0a0a"/>
<rect x="129.79" y="409.92" width="1.5" height="1.5" fill="#141414"/>
<rect x="64.96" y="272.83" width="1.5" height="1.5" fill="#0d0d0d"/>
<rect x="103.47" y="204" width="1.5" height="1.5" fill="#0c0c0c"/>
<rect x="257.88" y="149.72" width="1" height="1" fill="#0a0a0a"/>
<rect x="192.71" y="128.61" width="2" height="2" fill="#0b0b0b"/>
<rect x="67.89" y="425.17" width="2" height="2" fill="#181818"/>
<rect x="151.96" y="133.16" width="1" height="1" fill="#0b0b0b"/>
<rect x="71.96" y="154.82" width="1.5" height="1.5" fill="#0f0f0f"/>
<rect x="342.98" y="102.41" width="2" height="2" fill="#0a0a0a"/>
<rect x="103.42" y="237.83" width="1.5" height="1.5" fill="#151515"/>
<rect x="245.4" y="283.22" width="1.5" height="1.5" fill="#101010"/>
<rect x="182.38" y="204.11" width="1.5" height="1.5" fill="#0b0b0b"/>
<rect x="258" y="100.18" width="1" height="1" fill="#0a0a0a"/>
<rect x="160.15" y="306.41" width="1.5" height="1.5" fill="#0e0e0e"/>
<rect x="291.41" y="166.39" width="2" height="2" fill="#111111"/>
<rect x="254.6" y="299.37" width="1" height="1" fill="#0e0e0e"/>
<rect x="348.97" y="121.49" width="1.5" height="1.5" fill="#0a0a0a"/>
<rect x="244.3" y="425.35" width="2" height="2" fill="#161616"/>
<rect x="218.97" y="420.77" width="1" height="1" fill="#0f0f0f"/>
<rect x="285.34" y="274.42" width="1" height="1" fill="#171717"/>
<rect x="400.63" y="223.94" width="1" height="1" fill="#0d0d0d"/>
<rect x="280.18" y="179.99" width="2" height="2" fill="#151515"/>
<rect x="186.61" y="296.94" width="1" height="1" fill="#151515"/>
<rect x="78.82" y="107.29" width="2" height="2" fill="#0c0c0c"/>
<rect x="132.47" y="403.61" width="1" height="1" fill="#141414"/>
<rect x="68.46" y="372.54" width="1" height="1" fill="#0d0d0d"/>
<rect x="308.61" y="444.42" width="2" height="2" fill="#0a0a0a"/>
<rect x="368.85" y="401.97" width="1" height="1" fill="#0c0c0c"/>
<rect x="364.62" y="332.28" width="2" height="2" fill="#0c0c0c"/>
<rect x="99.99" y="388.31" width="2" height="2" fill="#161616"/>
<rect x="204.27" y="111.98" width="1.5" height="1.5" fill="#0e0e0e"/>
<rect x="153.9" y="441.97" width="1.5" height="1.5" fill="#0c0c0c"/>
<rect x="330.78" y="89.32" width="1" height="1" fill="#131313"/>
<rect x="154.13" y="221.26" width="1.5" height="1.5" fill="#181818"/>
<rect x="282.66" y="156.91" width="1.5" height="1.5" fill="#171717"/>
<rect x="368.15" y="169.8" width="1" height="1" fill="#0e0e0e"/>
<rect x="231.43" y="131.53" width="1" height="1" fill="#0f0f0f"/>
<rect x="358.33" y="161.52" width="1" height="1" fill="#0f0f0f"/>
<rect x="145.23" y="237.52" width="1" height="1" fill="#0c0c0c"/>
<rect x="186.34" y="367.37" width="1" height="1" fill="#101010"/>
<rect x="65.11" y="109.07" width="1" height="1" fill="#111111"/>
<rect x="92.2" y="148.61" width="1" height="1" fill="#181818"/>
<rect x="348.96" y="187.01" width="1" height="1" fill="#0b0b0b"/>
<rect x="332.18" y="338.71" width="1" height="1" fill="#0c0c0c"/>
<rect x="94.17" y="117.64" width="1" height="1" fill="#0a0a0a"/>
<rect x="171.52" y="200.37" width="2" height="2" fill="#0a0a0a"/>
<rect x="301.55" y="168.99" width="1.5" height="1.5" fill="#121212"/>
<rect x="142.05" y="124.74" width="1.5" height="1.5" fill="#151515"/>
<rect x="318.98" y="281.36" width="1" height="1" fill="#141414"/>
<rect x="376.43" y="376.84" width="2" height="2" fill="#141414"/>
<rect x="327.35" y="432.27" width="1.5" height="1.5" fill="#131313"/>
<rect x="267.71" y="346.28" width="1.5" height="1.5" fill="#171717"/>
<rect x="68.81" y="300.84" width="1" height="1" fill="#0f0f0f"/>
<rect x="108.74" y="93.27" width="1.5" height="1.5" fill="#121212"/>
<rect x="415.04" y="283.12" width="1.5" height="1.5" fill="#171717"/>
<rect x="125.29" y="198.19" width="1" height="1" fill="#161616"/>
<rect x="330.44" y="185.84" width="1.5" height="1.5" fill="#141414"/>
<rect x="218.16" y="311.89" width="1" height="1" fill="#0a0a0a"/>
<rect x="294.14" y="252.28" width="2" height="2" fill="#101010"/>
<rect x="199.26" y="314.05" width="2" height="2" fill="#181818"/>
<rect x="157.15" y="416.69" width="1.5" height="1.5" fill="#161616"/>
<rect x="111.07" y="173.3" width="1" height="1" fill="#0b0b0b"/>
<rect x="197.44" y="192.45" width="1" height="1" fill="#0d0d0d"/>
<rect x="285.14" y="438.26" width="1.5" height="1.5" fill="#181818"/>
<rect x="212.3" y="124.08" width="1" height="1" fill="#141414"/>
<rect x="167.59" y="336.29" width="1" height="1" fill="#161616"/>
<rect x="264.28" y="274.59" width="1" height="1" fill="#0c0c0c"/>
<rect x="213.59" y="281.02" width="1.5" height="1.5" fill="#0e0e0e"/>
<rect x="222.08" y="218.57" width="1.5" height="1.5" fill="#171717"/>
<rect x="72.09" y="258.62" width="1" height="1" fill="#111111"/>
<rect x="246.37" y="188.04" width="1" height="1" fill="#161616"/>
<rect x="108.2" y="376.94" width="1.5" height="1.5" fill="#0b0b0b"/>
<rect x="269.24" y="124.09" width="1.5" height="1.5" fill="#141414"/>
<rect x="348.63" y="274.79" width="1" height="1" fill="#0a0a0a"/>
<rect x="66.77" y="156.39" width="1" height="1" fill="#151515"/>
<rect x="228.31" y="314.68" width="2" height="2" fill="#161616"/>
<rect x="245.2" y="342.48" width="1" height="1" fill="#0d0d0d"/>
<rect x="286.14" y="133.99" width="2" height="2" fill="#141414"/>
<rect x="129.54" y="122.84" width="2" height="2" fill="#171717"/>
<rect x="168.09" y="301.92" width="1" height="1" fill="#161616"/>
<rect x="172.94" y="308" width="1" height="1" fill="#141414"/>
<rect x="272.23" y="390.74" width="2" height="2" fill="#161616"/>
<rect x="344.37" y="181.64" width="1" height="1" fill="#0f0f0f"/>
<rect x="317.36" y="88.12" width="1.5" height="1.5" fill="#0f0f0f"/>
<rect x="259.89" y="150.75" width="1.5" height="1.5" fill="#101010"/>
<rect x="126.98" y="170.46" width="1" height="1" fill="#171717"/>
<rect x="205.38" y="229.16" width="1.5" height="1.5" fill="#0e0e0e"/>
<rect x="238.83" y="282.64" width="1" height="1" fill="#161616"/>
<rect x="321.42" y="162.2" width="1" height="1" fill="#181818"/>
<rect x="120.27" y="395.6" width="1.5" height="1.5" fill="#0e0e0e"/>
<rect x="180.45" y="209.15" width="1.5" height="1.5" fill="#0c0c0c"/>
<rect x="199.97" y="137.79" width="2" height="2" fill="#0c0c0c"/>
<rect x="233.35" y="349" width="1.5" height="1.5" fill="#111111"/>
<rect x="332.23" y="142.02" width="1" height="1" fill="#131313"/>
<rect x="315.89" y="239.88" width="1.5" height="1.5" fill="#2f2f2f"/>
<rect x="291.37" y="196.95" width="1.5" height="1.5" fill="#202020"/>
<rect x="295.5" y="216.85" width="1" height="1" fill="#242424"/>
<rect x="179.94" y="275.14" width="1.5" height="1.5" fill="#202020"/>
<rect x="302.57" y="237.58" width="1" height="1" fill="#2e2e2e"/>
<rect x="156.81" y="184.25" width="1" height="1" fill="#303030"/>
<rect x="316.75" y="279.97" width="1" height="1" fill="#1c1c1c"/>
<rect x="299.02" y="240.96" width="1" height="1" fill="#2e2e2e"/>
<rect x="166.71" y="186.49" width="1" height="1" fill="#222222"/>
<rect x="205.7" y="196.69" width="1.5" height="1.5" fill="#1f1f1f"/>
<rect x="177.49" y="287" width="1.5" height="1.5" fill="#2d2d2d"/>
<rect x="225.81" y="141.18" width="1" height="1" fill="#2d2d2d"/>
<rect x="163.94" y="178.44" width="1" height="1" fill="#383838"/>
<rect x="328.82" y="266.04" width="1.5" height="1.5" fill="#282828"/>
<rect x="168.8" y="270.76" width="1.5" height="1.5" fill="#232323"/>
<rect x="285.6" y="233.86" width="1.5" height="1.5" fill="#373737"/>
<rect x="289.88" y="220.14" width="1" height="1" fill="#262626"/>
<rect x="306.15" y="311.82" width="1.5" height="1.5" fill="#1b1b1b"/>
<rect x="279.45" y="169.34" width="1.5" height="1.5" fill="#1d1d1d"/>
<rect x="165.76" y="282.86" width="1" height="1" fill="#353535"/>
<rect x="294.89" y="219.98" width="1" height="1" fill="#202020"/>
<rect x="338.2" y="288.46" width="1" height="1" fill="#222222"/>
<rect x="175.3" y="158.19" width="1" height="1" fill="#383838"/>
<rect x="313.16" y="244.93" width="1" height="1" fill="#2d2d2d"/>
<rect x="269.81" y="161.94" width="1" height="1" fill="#1f1f1f"/>
<rect x="238.22" y="170.56" width="1" height="1" fill="#252525"/>
<rect x="314.33" y="302.06" width="1" height="1" fill="#232323"/>
<rect x="297.48" y="222.18" width="1" height="1" fill="#1b1b1b"/>
<rect x="287.07" y="327.59" width="1.5" height="1.5" fill="#303030"/>
<rect x="243.21" y="158.26" width="1" height="1" fill="#242424"/>
<rect x="310.18" y="269.27" width="1.5" height="1.5" fill="#272727"/>
<rect x="318.06" y="297.55" width="1.5" height="1.5" fill="#373737"/>
<rect x="325.08" y="259.85" width="1.5" height="1.5" fill="#252525"/>
<rect x="198.66" y="185.33" width="1.5" height="1.5" fill="#242424"/>
<rect x="328.78" y="326.3" width="1" height="1" fill="#222222"/>
<rect x="284.8" y="194.54" width="1" height="1" fill="#2f2f2f"/>
<rect x="299.23" y="350.62" width="1" height="1" fill="#1c1c1c"/>
<rect x="294.85" y="238.06" width="1" height="1" fill="#202020"/>
<rect x="179.66" y="162.07" width="1" height="1" fill="#212121"/>
<rect x="303.96" y="241.42" width="1.5" height="1.5" fill="#222222"/>
<rect x="281.23" y="314.87" width="1" height="1" fill="#242424"/>
<rect x="272.16" y="195.86" width="1" height="1" fill="#313131"/>
<rect x="282.66" y="196.24" width="1.5" height="1.5" fill="#333333"/>
<rect x="311.37" y="252.19" width="1" height="1" fill="#1b1b1b"/>
<rect x="328.89" y="268.31" width="1" height="1" fill="#1b1b1b"/>
<rect x="224.79" y="171.65" width="1" height="1" fill="#222222"/>
<rect x="211.52" y="180.9" width="1" height="1" fill="#212121"/>
<rect x="295.1" y="219.78" width="1.5" height="1.5" fill="#333333"/>
<rect x="280.65" y="193.45" width="1" height="1" fill="#2f2f2f"/>
<rect x="207.64" y="174.5" width="1.5" height="1.5" fill="#1e1e1e"/>
<rect x="299.05" y="346.66" width="1" height="1" fill="#212121"/>
<rect x="335.79" y="303.84" width="1" height="1" fill="#282828"/>
<rect x="294" y="316.33" width="1" height="1" fill="#383838"/>
<rect x="305.06" y="310.92" width="1.5" height="1.5" fill="#1b1b1b"/>
<rect x="263.25" y="177.4" width="1.5" height="1.5" fill="#282828"/>
<rect x="271.27" y="175.73" width="1" height="1" fill="#303030"/>
<rect x="286.5" y="183.32" width="1" height="1" fill="#222222"/>
<rect x="312.82" y="255.42" width="1" height="1" fill="#1a1a1a"/>
<rect x="289.12" y="235.41" width="1" height="1" fill="#1c1c1c"/>
<rect x="332.98" y="308.79" width="1" height="1" fill="#343434"/>
<rect x="276.86" y="202.72" width="1" height="1" fill="#1b1b1b"/>
<rect x="273.1" y="205.25" width="1" height="1" fill="#282828"/>
<rect x="316.86" y="298.4" width="1" height="1" fill="#303030"/>
<rect x="219.09" y="188.86" width="1.5" height="1.5" fill="#202020"/>
<rect x="272.6" y="180.21" width="1.5" height="1.5" fill="#242424"/>
<rect x="302.04" y="215.19" width="1.5" height="1.5" fill="#272727"/>
<rect x="263.02" y="194.67" width="1" height="1" fill="#292929"/>
<rect x="271.62" y="205.67" width="1" height="1" fill="#2e2e2e"/>
<rect x="295.18" y="335.1" width="1" height="1" fill="#383838"/>
<rect x="296.07" y="234.19" width="1.5" height="1.5" fill="#343434"/>
<rect x="167.77" y="279.57" width="1.5" height="1.5" fill="#282828"/>
<rect x="329.92" y="276.53" width="1.5" height="1.5" fill="#1e1e1e"/>
<rect x="330.89" y="275.45" width="1" height="1" fill="#373737"/>
<rect x="285.49" y="229.83" width="1.5" height="1.5" fill="#353535"/>
<rect x="312.11" y="230.91" width="1.5" height="1.5" fill="#363636"/>
<rect x="290.63" y="217.22" width="1.5" height="1.5" fill="#323232"/>
<rect x="227.1" y="188.31" width="1" height="1" fill="#262626"/>
<rect x="311.53" y="324.09" width="1.5" height="1.5" fill="#1c1c1c"/>
<rect x="273.5" y="182.13" width="1" height="1" fill="#222222"/>
<rect x="280.43" y="224.17" width="1" height="1" fill="#323232"/>
<rect x="177.08" y="164.85" width="1" height="1" fill="#383838"/>
<rect x="185.38" y="169.73" width="1.5" height="1.5" fill="#202020"/>
<rect x="231.37" y="177.39" width="1.5" height="1.5" fill="#2a2a2a"/>
<rect x="304.09" y="218.82" width="1.5" height="1.5" fill="#303030"/>
<rect x="284.15" y="223.83" width="1" height="1" fill="#222222"/>
<rect x="341.85" y="296.58" width="1.5" height="1.5" fill="#202020"/>
<rect x="220.75" y="189.1" width="1" height="1" fill="#282828"/>
<rect x="324.28" y="252.96" width="1" height="1" fill="#323232"/>
<rect x="235.51" y="183.6" width="1.5" height="1.5" fill="#262626"/>
<rect x="296.96" y="334.97" width="1" height="1" fill="#2b2b2b"/>
<rect x="278.99" y="171.74" width="1.5" height="1.5" fill="#333333"/>
<rect x="286.22" y="231.56" width="1" height="1" fill="#363636"/>
<rect x="212.26" y="166.64" width="1" height="1" fill="#373737"/>
<rect x="315.59" y="328.78" width="1.5" height="1.5" fill="#1a1a1a"/>
<rect x="303.9" y="228.19" width="1.5" height="1.5" fill="#2c2c2c"/>
<rect x="183.67" y="193.64" width="1.5" height="1.5" fill="#1d1d1d"/>
<rect x="283.25" y="227.32" width="1.5" height="1.5" fill="#212121"/>
<rect x="224.38" y="161.22" width="1" height="1" fill="#333333"/>
<rect x="178.22" y="291.75" width="1" height="1" fill="#232323"/>
<rect x="168.35" y="190.8" width="1" height="1" fill="#343434"/>
<rect x="328.42" y="310.56" width="1" height="1" fill="#1f1f1f"/>
<rect x="229.49" y="272.32" width="1.5" height="1.5" fill="#1f1f1f"/>
<rect x="268.14" y="178.67" width="1" height="1" fill="#232323"/>
<rect x="289.9" y="236.49" width="1" height="1" fill="#242424"/>
<rect x="291.49" y="204.1" width="1" height="1" fill="#373737"/>
<rect x="301.25" y="236.21" width="1" height="1" fill="#232323"/>
<rect x="273.67" y="179.22" width="1" height="1" fill="#313131"/>
<rect x="203.39" y="287.68" width="1" height="1" fill="#2d2d2d"/>
<rect x="285" y="213.95" width="1" height="1" fill="#222222"/>
<rect x="183.04" y="175.06" width="1" height="1" fill="#1b1b1b"/>
<rect x="337.09" y="249.29" width="1.5" height="1.5" fill="#272727"/>
<rect x="305.54" y="239.43" width="1" height="1" fill="#1c1c1c"/>
<rect x="226.25" y="274.47" width="1" height="1" fill="#292929"/>
<rect x="269.96" y="204.8" width="1.5" height="1.5" fill="#2b2b2b"/>
<rect x="186.8" y="211.24" width="1" height="1" fill="#212121"/>
<rect x="162.21" y="185.35" width="1.5" height="1.5" fill="#313131"/>
<rect x="197.29" y="199.95" width="1.5" height="1.5" fill="#323232"/>
<rect x="315.09" y="247.65" width="1" height="1" fill="#2b2b2b"/>
<rect x="331.4" y="318.5" width="1" height="1" fill="#1e1e1e"/>
<rect x="315.97" y="314.87" width="1" height="1" fill="#202020"/>
<rect x="188.65" y="195.55" width="1" height="1" fill="#232323"/>
<rect x="168.27" y="177.66" width="1.5" height="1.5" fill="#373737"/>
<rect x="305.88" y="288.18" width="1.5" height="1.5" fill="#343434"/>
<rect x="171.12" y="267.66" width="1.5" height="1.5" fill="#373737"/>
<rect x="198.15" y="154.55" width="1" height="1" fill="#282828"/>
<rect x="303.71" y="337.48" width="1" height="1" fill="#292929"/>
<rect x="278.38" y="213.53" width="1" height="1" fill="#2e2e2e"/>
<rect x="205.63" y="185.72" width="1.5" height="1.5" fill="#222222"/>
<rect x="195.59" y="289.54" width="1" height="1" fill="#1b1b1b"/>
<rect x="301.56" y="227.93" width="1" height="1" fill="#202020"/>
<rect x="291.44" y="220.78" width="1.5" height="1.5" fill="#282828"/>
<rect x="289.72" y="205.49" width="1" height="1" fill="#1e1e1e"/>
<rect x="257.25" y="179.68" width="1.5" height="1.5" fill="#363636"/>
<rect x="279.6" y="223.32" width="1" height="1" fill="#222222"/>
<rect x="179.33" y="165.83" width="1" height="1" fill="#262626"/>
<rect x="176.38" y="292.66" width="1.5" height="1.5" fill="#1d1d1d"/>
<rect x="312.79" y="238.79" width="1" height="1" fill="#2e2e2e"/>
<rect x="214.72" y="192.57" width="1" height="1" fill="#303030"/>
<rect x="331.23" y="257.11" width="1" height="1" fill="#333333"/>
<rect x="302.55" y="344.61" width="1.5" height="1.5" fill="#323232"/>
<rect x="312.58" y="231.87" width="1.5" height="1.5" fill="#1f1f1f"/>
<rect x="325.69" y="318.04" width="1" height="1" fill="#333333"/>
<rect x="180.26" y="281.09" width="1.5" height="1.5" fill="#242424"/>
<rect x="340.06" y="300.83" width="1.5" height="1.5" fill="#1e1e1e"/>
<rect x="309.22" y="228.17" width="1" height="1" fill="#232323"/>
<rect x="169.53" y="277.26" width="1.5" height="1.5" fill="#272727"/>
<rect x="295.3" y="223.41" width="1" height="1" fill="#363636"/>
<rect x="264.51" y="156.53" width="1" height="1" fill="#343434"/>
<rect x="199.63" y="170.85" width="1" height="1" fill="#363636"/>
<rect x="319.65" y="226.35" width="1" height="1" fill="#2c2c2c"/>
<rect x="184.11" y="168.31" width="1" height="1" fill="#2c2c2c"/>
<rect x="321.81" y="323.8" width="1.5" height="1.5" fill="#353535"/>
<line x1="246.45" y1="261.6" x2="172.81" y2="230.34" stroke="#686868" stroke-width="0.85"/>
<circle cx="246.45" cy="261.6" r="4.6" fill="#000"/>
<g filter="url(#blur1)" fill="#e0e0e0" stroke="#e0e0e0" stroke-width="2.4" stroke-linejoin="round">
<polygon points="83.3,273.9 87.2,273.5 88,278.6 87.2,284.2 86.8,288.9 88,296 89.2,301.5 92.7,304.7 92.3,307.4 88.8,307.4 84.8,303.1 84,297.6 80.5,292.8 80.9,286.5 82.1,281 82.5,275.5"/>
<polygon points="102.2,303.6 104.3,302.6 105.9,303.6 107.7,303.4 109.8,303.4 112.5,306.8 113.3,311 112.5,314.7 110.4,316.8 108.3,318.4 107,317.3 108.8,314.2 108.3,310.5 106.2,307.9 103.5,305.8"/>
<polygon points="83.6,329.2 86.3,327.9 90.5,327.6 94.2,329.5 96.8,330 98.4,332.9 99.4,336.1 101.8,338.2 101.5,340.8 99.4,342.9 97.3,343.4 96.8,340.3 94.7,336.6 93.1,334 89.4,331.3 86.3,330.5"/>
<polygon points="104.2,338.2 106.3,337.1 110.5,338.2 112.6,340.3 114.7,344 117.1,347.6 115.7,349.5 110.5,349.2 107.8,346.6 106.8,342.9 104.7,340.3"/>
<polygon points="239.4,277.8 240.7,277.8 243.1,281.8 246.8,286 248.4,290.2 251,293.8 253.1,298.1 253.6,301.3 255.5,303.3 259.3,304.7 260.8,305 261.4,309 264.8,313 266,316 267.2,319.7 269.7,320 270.6,325.9 268.5,327.4 266.6,325.2 265.4,321 263.6,316.7 261.1,317.3 259.9,315.4 256.2,313 254.4,309.3 251.9,305 248.8,299.5 247.8,296.5 244.7,291.8 241.5,289.6 237.8,287 235.2,285.4 237.3,281.2"/>
<polygon points="273.3,333.8 276.5,329.9 280,326.8 281.6,327.5 282,331.5 280,333.8 278.5,333.1 277.3,340.2 274.9,337.8 273.3,335.4"/>
<polygon points="284.8,338.6 287.9,337.4 292.7,338.6 295,341.7 294.7,345.3 291.9,344.9 289.9,346.5 289.1,352.8 288.7,358.3 287.5,363.8 286,362.3 285.2,355.9 284.4,348.8 284.4,342.5"/>
<polygon points="298.1,347.7 299.5,346.6 302.1,348.3 303.7,348.8 306,352.8 308.2,355.6 309.1,349.4 310.5,346.9 313.9,346.3 316.1,346.6 318.3,346 322.3,343.2 324.5,343.8 328.5,348.3 330.7,351.7 328.5,351.1 325.9,350.5 324.5,352.2 320.6,353.3 315.5,353.9 315,358.4 314.4,362.9 311.3,362.3 309.9,358.4 307.1,356.1 304.3,355.6 302.6,356.7 299.2,353.3 297.8,350"/>
<polygon points="204.3,322.3 203.9,320.8 207.6,314.3 210.8,310 211.8,310.6 209.2,315.4 205.8,321.4"/>
</g><g fill="#ffff00">
<polygon points="84.3,273.1 88.2,272.7 89,277.8 88.2,283.4 87.8,288.1 89,295.2 90.2,300.7 93.7,303.9 93.3,306.6 89.8,306.6 85.8,302.3 85,296.8 81.5,292 81.9,285.7 83.1,280.2 83.5,274.7"/>
<polygon points="103.2,302.8 105.3,301.8 106.9,302.8 108.7,302.6 110.8,302.6 113.5,306 114.3,310.2 113.5,313.9 111.4,316 109.3,317.6 108,316.5 109.8,313.4 109.3,309.7 107.2,307.1 104.5,305"/>
<polygon points="84.6,328.4 87.3,327.1 91.5,326.8 95.2,328.7 97.8,329.2 99.4,332.1 100.4,335.3 102.8,337.4 102.5,340 100.4,342.1 98.3,342.6 97.8,339.5 95.7,335.8 94.1,333.2 90.4,330.5 87.3,329.7"/>
<polygon points="105.2,337.4 107.3,336.3 111.5,337.4 113.6,339.5 115.7,343.2 118.1,346.8 116.7,348.7 111.5,348.4 108.8,345.8 107.8,342.1 105.7,339.5"/>
<polygon points="240.4,277 241.7,277 244.1,281 247.8,285.2 249.4,289.4 252,293 254.1,297.3 254.6,300.5 256.5,302.5 260.3,303.9 261.8,304.2 262.4,308.2 265.8,312.2 267,315.2 268.2,318.9 270.7,319.2 271.6,325.1 269.5,326.6 267.6,324.4 266.4,320.2 264.6,315.9 262.1,316.5 260.9,314.6 257.2,312.2 255.4,308.5 252.9,304.2 249.8,298.7 248.8,295.7 245.7,291 242.5,288.8 238.8,286.2 236.2,284.6 238.3,280.4"/>
<polygon points="274.3,333 277.5,329.1 281,326 282.6,326.7 283,330.7 281,333 279.5,332.3 278.3,339.4 275.9,337 274.3,334.6"/>
<polygon points="285.8,337.8 288.9,336.6 293.7,337.8 296,340.9 295.7,344.5 292.9,344.1 290.9,345.7 290.1,352 289.7,357.5 288.5,363 287,361.5 286.2,355.1 285.4,348 285.4,341.7"/>
<polygon points="299.1,346.9 300.5,345.8 303.1,347.5 304.7,348 307,352 309.2,354.8 310.1,348.6 311.5,346.1 314.9,345.5 317.1,345.8 319.3,345.2 323.3,342.4 325.5,343 329.5,347.5 331.7,350.9 329.5,350.3 326.9,349.7 325.5,351.4 321.6,352.5 316.5,353.1 316,357.6 315.4,362.1 312.3,361.5 310.9,357.6 308.1,355.3 305.3,354.8 303.6,355.9 300.2,352.5 298.8,349.2"/>
<polygon points="205.3,321.5 204.9,320 208.6,313.5 211.8,309.2 212.8,309.8 210.2,314.6 206.8,320.6"/>
<polygon points="305.2,236 305.8,234.9 309,233.8 309.3,234.8"/>
<polygon points="249,253.8 250.4,252.6 251.8,253 250.8,254.8 249.4,255"/>
<polygon points="239.8,259 241.4,258.8 241.9,261 241.1,264 240.2,265.2 239.5,262.5"/>
</g>
<line x1="108.7" y1="317.3" x2="99.5" y2="321.8" stroke="#ffff00" stroke-width="1.4"/>
<line x1="236.9" y1="275.2" x2="231.8" y2="281.6" stroke="#e8e8d0" stroke-width="1.2"/>
<line x1="231.8" y1="281.6" x2="230.8" y2="282.8" stroke="#ffff00" stroke-width="1.4"/>
<line x1="309.3" y1="233.8" x2="312" y2="233" stroke="#e0e0e0" stroke-width="1.6"/>
<g fill="none" stroke="#fff" stroke-width="1.2" stroke-linejoin="round">
<polyline points="60,179.2 69.4,179.2 71.5,177.6 72.6,174 74.7,173.2 77.8,174.5 82.6,176.6 85.2,178.7 88.4,181.3 94.7,179.2 103.1,176.6 111.5,172.9 118.9,168.2 127.3,162.4 127.8,155 130.5,153.9 131,149.7 133.1,147.1 131.5,144.5 128.9,143.4 127.8,146.1 126.3,144.5 124.7,141.8 127.8,140.3 128.4,137.1 130.5,135 134.7,134.3 144.4,133.4 153.4,132.9 154.4,146.1 158.1,145.5 159.2,145 162.3,146.1 163.9,139.2 161.5,138.5 162.3,134 165.5,134.5 168.1,131.3 169.2,132.9 173.4,136.1 178.1,135.8 182.3,138.2 186,139.2 189.7,137.6 197.1,137.8 203.4,139.2 204.9,141.8 208.6,143.1 213.6,140.8 218.4,141.8 222.6,139.2 224.2,136.6 226.3,136.6 228.4,138.2 231,137.6 234.2,132.9 238.4,136.1 242.6,131.8 238.9,130.3 244.7,126.6 248.4,125.5 251,126.6 256.3,122.4 254.2,125.5 256.8,127.6 260.5,126.6 261.5,123.4 263.1,120.8 263.4,116.6 266.8,116.6 271.5,117.1 271.5,120.3 276.3,121.8 279.4,122.6 281.3,129 283.4,136.3 281.3,137.9 277.1,136.8 275.5,137.9 278.1,145.3 284.4,143.7 285,141.6 286,141.1 289.7,144.7 293.9,143.2 293.4,137.9 295,137.4 296,141.1 305.5,136.3 301.8,128.9 294.4,132.1 287.1,129.5 293.9,126.3 287.6,110 298.6,104.7 308.6,123.7 311.8,122.6 312.3,125.8 308.1,129 309.2,132.1 319.2,127.9 315.5,118.9 313.9,115.3 317.1,115.3 319.2,117.4 319.7,120 324.4,116.3 322.3,114.2 322.3,111.6 311.8,103.2 317.6,96.8 332.3,107.9 337.6,101.1 334.4,98.9 332.3,100.5 320.2,90 323.3,81.6 330.2,79.3 337.5,80.6 344.9,82.9 350.9,85.4 351.8,82.5 352.7,75.6"/><polyline points="98.4,75.4 95.7,78.6 92.9,81.4 91.1,84.1 91.5,87.8 92,93.3 91.5,96.1 94.3,97.4 95.7,99.7 97.5,104.3 99.4,108 101.7,110.8 104.9,111.2 108.6,111.7 111.3,108.9 114.1,109.4 116.4,107.6 120.5,106.6 122.3,103.4 122.8,99.3 126.9,97.9 128.3,95.6 128.8,92.4 131.1,90.1 134.3,90.1 132.9,87.8 132.5,85 133.4,82.3 132.5,79.5 132,75.4"/>
<polyline points="247.3,112.9 249.9,117.1"/>
<polyline points="286.5,129.2 288.1,129.6"/>
<polyline points="344.9,75 347.2,79.7 349.9,77.4"/>
</g>
<polygon points="85.9,85.8 87.7,83.6 89.2,84.6 87.5,86.4" fill="#fff"/>
</g>
<g clip-path="url(#cr)">
<g shape-rendering="crispEdges">
<polygon points="667.55,261.6 714.57,283.53 715.11,282.34" fill="#ff2000"/>
<polygon points="667.55,261.6 717.73,283.49 718.26,282.23" fill="#000090"/>
<polygon points="667.55,261.6 716.13,281.36 716.62,280.11" fill="#ff2000"/>
<polygon points="667.55,261.6 709.95,277.59 710.28,276.68" fill="#000080"/>
<polygon points="667.55,261.6 714.73,278.25 715.18,276.9" fill="#000090"/>
<polygon points="667.55,261.6 717.57,277.67 718.03,276.17" fill="#000080"/>
<polygon points="667.55,261.6 712.87,274.68 713.07,273.98" fill="#000080"/>
<polygon points="667.55,261.6 714.98,274.5 715.38,272.93" fill="#000070"/>
<polygon points="667.55,261.6 718.84,273.75 719.11,272.56" fill="#000080"/>
<polygon points="667.55,261.6 720.86,272.93 721.12,271.59" fill="#0010e0"/>
<polygon points="667.55,261.6 721.62,271.68 721.91,269.99" fill="#0828f0"/>
<polygon points="667.55,261.6 700.58,266.69 700.65,266.21" fill="#0828f0"/>
<polygon points="667.55,261.6 728.61,270.1 728.79,268.67" fill="#0010e0"/>
<polygon points="667.55,261.6 706.81,266.13 706.89,265.38" fill="#0018d0"/>
<polygon points="667.55,261.6 725.24,267.14 725.35,265.74" fill="#0828f0"/>
<polygon points="667.55,261.6 703.31,264.16 703.36,263.37" fill="#0010e0"/>
<polygon points="667.55,261.6 707.06,263.55 707.08,262.87" fill="#0018d0"/>
<polygon points="667.55,261.6 725.4,263.46 725.42,262.4" fill="#000090"/>
<polygon points="667.55,261.6 727.51,262.43 727.51,261.6" fill="#0018d0"/>
<polygon points="667.55,261.6 731.47,261.6 731.46,260.53" fill="#0030f0"/>
<polygon points="667.55,261.6 737.31,260.43 737.23,257.98" fill="#0828f0"/>
<polygon points="667.55,261.6 731.05,258.3 730.97,257.09" fill="#000090"/>
<polygon points="667.55,261.6 737.28,256.64 737.19,255.5" fill="#0030f0"/>
<polygon points="667.55,261.6 733.45,255.82 733.36,254.89" fill="#0020d0"/>
<polygon points="667.55,261.6 725.79,255.66 725.69,254.74" fill="#0010ff"/>
<polygon points="667.55,261.6 730.36,254.19 730.25,253.29" fill="#0010ff"/>
<polygon points="667.55,261.6 731.69,253.1 731.33,250.71" fill="#0020d0"/>
<polygon points="667.55,261.6 726.58,251.52 726.38,250.43" fill="#000090"/>
<polygon points="667.55,261.6 727.02,250.31 726.78,249.12" fill="#000090"/>
<polygon points="667.55,261.6 735.6,247.27 735.32,245.99" fill="#000090"/>
<polygon points="667.55,261.6 705.48,252.86 705.34,252.26" fill="#0030f0"/>
<polygon points="667.55,261.6 732.75,245.49 732.71,245.35" fill="#000090"/>
<polygon points="667.55,261.6 715.54,249.64 715.21,248.39" fill="url(#gb2)"/>
<polygon points="667.55,261.6 714.78,248.51 714.55,247.71" fill="url(#gb2)"/>
<polygon points="667.55,261.6 718.66,246.5 718.33,245.44" fill="url(#gb2)"/>
<polygon points="667.55,261.6 713.5,246.98 713.26,246.26" fill="url(#gb2)"/>
<polygon points="667.55,261.6 712.77,246.42 712.48,245.6" fill="#0030f0"/>
<polygon points="667.55,261.6 709.26,246.75 709.01,246.07" fill="#0020e0"/>
<polygon points="667.55,261.6 715.51,243.64 714.95,242.21" fill="#0030f0"/>
<polygon points="667.55,261.6 716.93,241.4 716.33,240.01" fill="#0020e0"/>
<polygon points="667.55,261.6 702.36,246.19 701.86,245.12" fill="url(#gb)"/>
<polygon points="667.55,261.6 709.87,241.27 709.55,240.62" fill="url(#gb2)"/>
<polygon points="667.55,261.6 712.04,239.37 711.69,238.67" fill="#0030f0"/>
<polygon points="667.55,261.6 714.82,237.04 713.98,235.48" fill="url(#gb)"/>
<polygon points="667.55,261.6 713.64,235.66 713.35,235.16" fill="url(#gb2)"/>
<polygon points="667.55,261.6 712.6,235.59 711.66,234.03" fill="#0050f8"/>
<polygon points="667.55,261.6 688.43,248.55 688.13,248.06" fill="url(#gb)"/>
<polygon points="667.55,261.6 713.47,231.39 712.28,229.66" fill="#0050f8"/>
<polygon points="667.55,261.6 710.88,230.66 709.71,229.08" fill="#0050f8"/>
<polygon points="667.55,261.6 703.31,234.02 702.34,232.81" fill="url(#gb)"/>
<polygon points="667.55,261.6 695.07,238.83 694.57,238.24" fill="url(#gb)"/>
<polygon points="667.55,261.6 707.23,227.29 706.32,226.27" fill="url(#gb)"/>
<polygon points="667.55,261.6 704.27,228.13 703.05,226.84" fill="url(#gb2)"/>
<polygon points="667.55,261.6 706,223.95 704.99,222.94" fill="#0050f8"/>
<polygon points="667.55,261.6 700.92,227.14 700.01,226.28" fill="url(#gb)"/>
<polygon points="667.55,261.6 701.68,224.45 700.98,223.82" fill="url(#gb2)"/>
<polygon points="667.55,261.6 700.61,224.24 699.26,223.09" fill="url(#gb)"/>
<polygon points="667.55,261.6 696.92,225.93 696.23,225.38" fill="url(#gb)"/>
<polygon points="667.55,261.6 702.05,218.03 700.67,216.97" fill="url(#gb2)"/>
<polygon points="667.55,261.6 697.89,220.71 697.2,220.21" fill="#0050f8"/>
<polygon points="667.55,261.6 697.52,219.77 697.06,219.45" fill="#0050f8"/>
<polygon points="667.55,261.6 699.96,215.31 698.95,214.62" fill="#0830f0"/>
<polygon points="667.55,261.6 695.63,219.58 694.33,218.74" fill="#0830f0"/>
<polygon points="667.55,261.6 695.18,217.38 693.86,216.58" fill="#0018ff"/>
<polygon points="667.55,261.6 684.8,232.09 684.21,231.76" fill="#0840ff"/>
<polygon points="667.55,261.6 693.69,214.78 692.91,214.35" fill="#0018ff"/>
<polygon points="667.55,261.6 693.63,213 691.79,212.06" fill="#0840ff"/>
<polygon points="667.55,261.6 691.92,211.8 690.91,211.32" fill="#0830f0"/>
<polygon points="667.55,261.6 688.79,215.88 687.95,215.5" fill="#0020e8"/>
<polygon points="667.55,261.6 690.28,210.23 689.06,209.71" fill="#0830f0"/>
<polygon points="667.55,261.6 689.41,208.87 688.14,208.36" fill="#0840ff"/>
<polygon points="667.55,261.6 687.23,210.71 685.95,210.23" fill="#0840ff"/>
<polygon points="667.55,261.6 686.04,209.97 684.62,209.49" fill="#0018ff"/>
<polygon points="667.55,261.6 684.62,209.5 683.29,209.08" fill="#0830f0"/>
<polygon points="667.55,261.6 683.96,206.86 682.91,206.56" fill="#0018ff"/>
<polygon points="667.55,261.6 682.64,207.51 681.17,207.12" fill="#0830f0"/>
<polygon points="667.55,261.6 678.98,215.87 677.95,215.62" fill="#0840ff"/>
<polygon points="667.55,261.6 676.37,222.64 675.09,222.37" fill="#0830f0"/>
<polygon points="667.55,261.6 676.21,216.55 675.52,216.42" fill="#0020e8"/>
<polygon points="667.55,261.6 679.01,196.6 677.35,196.33" fill="#0008c0"/>
<polygon points="667.55,261.6 676.88,199.5 674.73,199.21" fill="#000090"/>
<polygon points="667.55,261.6 674.73,199.22 672.97,199.04" fill="#000090"/>
<polygon points="667.55,261.6 672.53,204.2 670.98,204.09" fill="#0818d8"/>
<polygon points="667.55,261.6 671.39,197.27 669.67,197.19" fill="#0010ff"/>
<polygon points="667.55,261.6 669.71,196.07 667.72,196.04" fill="#0008c0"/>
<polygon points="667.55,261.6 667.71,197.08 666.48,197.09" fill="#0008c0"/>
<polygon points="667.55,261.6 666.55,201.08 665.3,201.12" fill="#0010e0"/>
<polygon points="667.55,261.6 665.73,212.64 664.45,212.7" fill="#0008c0"/>
<polygon points="667.55,261.6 663.68,200.62 661.46,200.8" fill="#0010e0"/>
<polygon points="667.55,261.6 663.27,218.8 662.16,218.93" fill="#000090"/>
<polygon points="667.55,261.6 659.52,198.11 657.21,198.44" fill="#0818d8"/>
<polygon points="667.55,261.6 658.73,207.68 657.35,207.92" fill="#000090"/>
<polygon points="667.55,261.6 657.43,208.33 656.28,208.56" fill="#0010e0"/>
<polygon points="667.55,261.6 657.13,212.59 655.35,213" fill="#000090"/>
<polygon points="667.55,261.6 659.9,231.13 659.45,231.25" fill="#000070"/>
<polygon points="667.55,261.6 653.31,208.24 652.25,208.54" fill="#000090"/>
<polygon points="667.55,261.6 651.88,207.27 650,207.85" fill="#0010d0"/>
<polygon points="667.55,261.6 649.97,207.76 649.19,208.02" fill="#0008b0"/>
<polygon points="667.55,261.6 648.48,205.95 646.98,206.49" fill="#0008b0"/>
<polygon points="667.55,261.6 647.02,206.6 645.55,207.17" fill="#0008b0"/>
<polygon points="667.55,261.6 645.93,208.11 644.88,208.55" fill="#0008b0"/>
<polygon points="667.55,261.6 646.73,212.86 645.68,213.32" fill="#0008b0"/>
<polygon points="667.55,261.6 651.22,225.56 650.04,226.11" fill="#0008b0"/>
<polygon points="667.55,261.6 650.03,226.09 648.91,226.67" fill="#0010d0"/>
<polygon points="667.55,261.6 640.55,211 639.19,211.76" fill="#000090"/>
<polygon points="667.55,261.6 639.86,212.94 639.07,213.4" fill="#000070"/>
<polygon points="667.55,261.6 639.42,213.99 638.62,214.47" fill="#0008b0"/>
<polygon points="667.55,261.6 646.23,226.87 645.08,227.6" fill="#0010d0"/>
<polygon points="667.55,261.6 639.39,218.99 638.64,219.49" fill="#0008b0"/>
<polygon points="667.55,261.6 648.55,233.92 647.81,234.44" fill="#0010d0"/>
<polygon points="667.55,261.6 638.78,222 638.15,222.46" fill="#000080"/>
<polygon points="667.55,261.6 635.58,219.04 634.46,219.9" fill="#ff2000"/>
<polygon points="667.55,261.6 637.86,224.18 636.77,225.08" fill="#000080"/>
<polygon points="667.55,261.6 631.46,218.77 630.4,219.68" fill="#ee0000"/>
<polygon points="667.55,261.6 635.1,224.99 634.06,225.94" fill="#ff3000"/>
<polygon points="667.55,261.6 628.87,220.41 627.42,221.82" fill="#000080"/>
<polygon points="667.55,261.6 631.73,226.09 630.75,227.1" fill="#ff3000"/>
<polygon points="667.55,261.6 630.11,226.5 628.95,227.77" fill="#ee0000"/>
<polygon points="667.55,261.6 627.7,226.68 626.54,228.05" fill="#ff3000"/>
<polygon points="667.55,261.6 624.04,226 623.86,226.22" fill="#ee0000"/>
<polygon points="667.55,261.6 616.33,263.39 616.37,264.19" fill="url(#gw)"/>
<polygon points="667.55,261.6 611.68,264.43 611.81,266.42" fill="url(#gw)"/>
<polygon points="667.55,261.6 612.09,266.4 612.2,267.48" fill="url(#gw)"/>
<polygon points="667.55,261.6 616.02,267.08 616.13,268.07" fill="url(#gw)"/>
<polygon points="667.55,261.6 611.99,268.59 612.17,269.89" fill="url(#gw2)"/>
<polygon points="667.55,261.6 616.39,269.26 616.53,270.12" fill="url(#gw)"/>
<polygon points="667.55,261.6 613.95,270.55 614.24,272.1" fill="url(#gw)"/>
<polygon points="667.55,261.6 614.09,272.13 614.38,273.53" fill="url(#gw)"/>
<polygon points="667.55,261.6 618.41,272.63 618.6,273.43" fill="url(#gw2)"/>
<polygon points="667.55,261.6 617.1,273.79 617.41,275.03" fill="url(#gw)"/>
<polygon points="667.55,261.6 636.25,269.99 636.51,270.91" fill="url(#gw)"/>
<polygon points="667.55,261.6 622.07,275.24 622.4,276.3" fill="url(#gw)"/>
<polygon points="667.55,261.6 626,275.13 626.5,276.57" fill="url(#gw)"/>
<polygon points="667.55,261.6 627.78,276.1 628.35,277.56" fill="url(#gw2)"/>
<polygon points="667.55,261.6 627.2,278.03 627.56,278.9" fill="url(#gw)"/>
<polygon points="667.55,261.6 630.31,277.71 630.77,278.73" fill="url(#gw)"/>
<polygon points="667.55,261.6 625.86,281.02 626.15,281.63" fill="url(#gw2)"/>
<polygon points="667.55,261.6 626.3,281.56 626.66,282.29" fill="url(#gw)"/>
<polygon points="667.55,261.6 635.14,278 635.68,279.03" fill="url(#gw)"/>
<polygon points="667.55,261.6 626.15,284.25 626.28,284.48" fill="url(#gw)"/>
<polygon points="667.55,261.6 658.84,283.15 659.28,283.32" fill="#ff4800"/>
<polygon points="667.55,261.6 659.12,283.74 659.51,283.88" fill="#ff6000"/>
<polygon points="667.55,261.6 659.38,284.25 659.72,284.37" fill="#ff8000"/>
<polygon points="667.55,261.6 659.56,284.84 660.18,285.05" fill="#ff4800"/>
<polygon points="667.55,261.6 660,285.64 660.6,285.82" fill="#ff4800"/>
<polygon points="667.55,261.6 660.45,286.38 661.01,286.53" fill="#ff7000"/>
<polygon points="667.55,261.6 660.83,287.22 661.79,287.46" fill="#ff6000"/>
<polygon points="667.55,261.6 661.63,288.2 662.33,288.34" fill="#ff8000"/>
<polygon points="667.55,261.6 662.22,288.89 662.78,289" fill="#ff5000"/>
<polygon points="667.55,261.6 662.7,289.46 663.22,289.54" fill="#ff7000"/>
<polygon points="667.55,261.6 663.14,290.07 663.89,290.18" fill="#ff6000"/>
<polygon points="667.55,261.6 663.81,290.84 664.66,290.93" fill="#ff6000"/>
<polygon points="667.55,261.6 664.6,291.63 665.47,291.7" fill="#ff6000"/>
<polygon points="667.55,261.6 665.42,292.44 666.42,292.49" fill="#ff7000"/>
<polygon points="667.55,261.6 666.4,293.23 667.33,293.25" fill="#ff7000"/>
<polygon points="667.55,261.6 667.32,293.86 668.04,293.86" fill="#ff6000"/>
<polygon points="667.55,261.6 668.05,294.53 669.15,294.49" fill="#ff7000"/>
<polygon points="667.55,261.6 669.27,296.81 670.14,296.76" fill="#ff7000"/>
<polygon points="667.55,261.6 670.29,298.81 671.15,298.74" fill="#ff8000"/>
<polygon points="667.55,261.6 671.33,300.62 672.15,300.53" fill="#ff7000"/>
<polygon points="667.55,261.6 671.67,296.49 672.52,296.38" fill="#ff6000"/>
<polygon points="667.55,261.6 673.69,304.54 674.86,304.36" fill="#ff4800"/>
<polygon points="667.55,261.6 672.63,291.35 673.27,291.23" fill="#ff5000"/>
<polygon points="667.55,261.6 676.04,305.64 676.75,305.5" fill="#ff8000"/>
<polygon points="667.55,261.6 676.23,303.06 677.1,302.87" fill="#ff8000"/>
<polygon points="667.55,261.6 676.99,302.39 677.92,302.17" fill="#ff5000"/>
<polygon points="667.55,261.6 680.22,311.17 681.63,310.79" fill="#ff8000"/>
<polygon points="667.55,261.6 681.38,309.93 682.57,309.58" fill="#ff8000"/>
<polygon points="667.55,261.6 683.01,310.96 683.96,310.66" fill="#ff5000"/>
<polygon points="667.55,261.6 682.02,304.85 682.88,304.55" fill="#ff8000"/>
<polygon points="667.55,261.6 683.74,306.94 685.11,306.43" fill="#ff5000"/>
<polygon points="667.55,261.6 684.31,304.39 685.29,304" fill="#ff5000"/>
<polygon points="667.55,261.6 684.13,301.22 685.22,300.74" fill="#ff8000"/>
<polygon points="667.55,261.6 678.14,285.07 678.93,284.7" fill="#ff8000"/>
<polygon points="667.55,261.6 689.13,305.4 690.76,304.55" fill="#ff6000"/>
<polygon points="667.55,261.6 688.88,301.08 689.99,300.46" fill="#ff8000"/>
<polygon points="667.55,261.6 692.38,304.61 692.38,304.61" fill="#ff6000"/>
<polygon points="667.55,261.6 687.47,296.11 687.98,295.82" fill="#ff4800"/>
<polygon points="667.55,261.6 691.98,302.51 692.79,302.02" fill="#ee0000"/>
<polygon points="667.55,261.6 694.44,304.67 695.39,304.06" fill="#ff4000"/>
<polygon points="667.55,261.6 695.61,304.39 696.89,303.52" fill="#ff2000"/>
<polygon points="667.55,261.6 699.25,306.88 700.65,305.87" fill="#ff4000"/>
<polygon points="667.55,261.6 700.07,305.09 701.56,303.93" fill="#ff4800"/>
<polygon points="667.55,261.6 700.57,302.69 702.08,301.43" fill="#ff2000"/>
<polygon points="667.55,261.6 700.52,299.64 701.78,298.51" fill="#ff3000"/>
<polygon points="667.55,261.6 699.31,295.84 699.99,295.2" fill="#ff3000"/>
<polygon points="667.55,261.6 702.24,297.54 703.02,296.77" fill="#ff4000"/>
<polygon points="667.55,261.6 699.19,292.98 700.35,291.77" fill="#ff2000"/>
<polygon points="667.55,261.6 701.84,293.13 702.5,292.39" fill="#ff2000"/>
<polygon points="667.55,261.6 699.98,290.17 700.89,289.11" fill="#ff2000"/>
<polygon points="667.55,261.6 704.03,291.7 704.67,290.9" fill="#ee0000"/>
<polygon points="667.55,261.6 709.52,294.73 710.16,293.9" fill="#ff3000"/>
<polygon points="667.55,261.6 711.46,294.88 712.27,293.78" fill="#ff4000"/>
<polygon points="667.55,261.6 712.6,294.02 713.53,292.69" fill="#ff4000"/>
<polygon points="667.55,261.6 709.06,289.67 709.77,288.59" fill="#ee0000"/>
<polygon points="667.55,261.6 705.77,286.02 706.55,284.76" fill="#ff4800"/>
<polygon points="667.55,261.6 715.32,289.96 715.74,289.24" fill="#ff4800"/>
<polygon points="667.55,261.6 714.56,288.56 715.55,286.76" fill="#ff2000"/>
<polygon points="667.55,261.6 695.9,276.46 696.34,275.61" fill="#ff4000"/>
<polygon points="667.55,261.6 710.75,282.62 711.26,281.54" fill="#ff3000"/>
<polygon points="667.55,261.6 716.67,284 716.87,283.56" fill="#ee0000"/>
</g>
<line x1="667.55" y1="261.6" x2="624.29" y2="243.24" stroke="#ff7000" stroke-width="1.2" stroke-dasharray="1.5 2"/>
<rect x="741.44" y="282.78" width="1.6" height="1.6" fill="#1870ff"/>
<rect x="632.16" y="210.74" width="1.6" height="1.6" fill="#0828f0"/>
<rect x="672.08" y="199.82" width="1.6" height="1.6" fill="#000090"/>
<rect x="639.03" y="190.92" width="1.6" height="1.6" fill="#0040ff"/>
<rect x="705.31" y="210.02" width="1.6" height="1.6" fill="#0040ff"/>
<rect x="740.12" y="236.15" width="1.6" height="1.6" fill="#0828f0"/>
<rect x="688.47" y="209.72" width="1.6" height="1.6" fill="#1870ff"/>
<rect x="703.48" y="219.52" width="1.6" height="1.6" fill="#0040ff"/>
<rect x="657.91" y="206.23" width="1.6" height="1.6" fill="#1870ff"/>
<rect x="693.56" y="318.86" width="1.6" height="1.6" fill="#ee0000"/>
<rect x="699.95" y="318.28" width="1.6" height="1.6" fill="#ee0000"/>
<rect x="694.56" y="311.34" width="1.6" height="1.6" fill="#ff2000"/>
<rect x="696.96" y="323.66" width="1.6" height="1.6" fill="#ee0000"/>
<rect x="704.43" y="311.91" width="1.6" height="1.6" fill="#ff2000"/>
<rect x="713.48" y="310.17" width="1.6" height="1.6" fill="#ff2000"/>
<rect x="698.43" y="304.97" width="1.6" height="1.6" fill="#ff2000"/>
<rect x="697.79" y="304.64" width="1.6" height="1.6" fill="#000080"/>
<rect x="722.64" y="298.87" width="1.6" height="1.6" fill="#000080"/>
<rect x="707.57" y="295.02" width="1.6" height="1.6" fill="#000080"/>
<circle cx="667.55" cy="261.6" r="5.3" fill="#fff"/>
<clipPath id="ec0"><polygon points="504.2,273.6 508.1,273.2 508.9,278.3 508.1,283.9 507.7,288.6 508.9,295.7 510.1,301.2 513.6,304.4 513.2,307.1 509.7,307.1 505.7,302.8 504.9,297.3 501.4,292.5 501.8,286.2 503,280.7 503.4,275.2"/><polygon points="505.4,273.1 509.3,272.7 510.1,277.8 509.3,283.4 508.9,288.1 510.1,295.2 511.3,300.7 514.8,303.9 514.4,306.6 510.9,306.6 506.9,302.3 506.1,296.8 502.6,292 503,285.7 504.2,280.2 504.6,274.7"/></clipPath>
<polygon points="503.8,273.8 507.7,273.4 508.5,278.5 507.7,284.1 507.3,288.8 508.5,295.9 509.7,301.4 513.2,304.6 512.8,307.3 509.3,307.3 505.3,303 504.5,297.5 501,292.7 501.4,286.4 502.6,280.9 503,275.4" fill="#000060"/><polygon points="505.4,273.1 509.3,272.7 510.1,277.8 509.3,283.4 508.9,288.1 510.1,295.2 511.3,300.7 514.8,303.9 514.4,306.6 510.9,306.6 506.9,302.3 506.1,296.8 502.6,292 503,285.7 504.2,280.2 504.6,274.7" fill="#000060"/>
<polygon points="507.4,272.1 511.3,271.7 512.1,276.8 511.3,282.4 510.9,287.1 512.1,294.2 513.3,299.7 516.8,302.9 516.4,305.6 512.9,305.6 508.9,301.3 508.1,295.8 504.6,291 505,284.7 506.2,279.2 506.6,273.7" fill="#ff0000" clip-path="url(#ec0)"/>
<clipPath id="ec1"><polygon points="523.1,303.3 525.2,302.3 526.8,303.3 528.6,303.1 530.7,303.1 533.4,306.5 534.2,310.7 533.4,314.4 531.3,316.5 529.2,318.1 527.9,317 529.7,313.9 529.2,310.2 527.1,307.6 524.4,305.5"/><polygon points="524.3,302.8 526.4,301.8 528,302.8 529.8,302.6 531.9,302.6 534.6,306 535.4,310.2 534.6,313.9 532.5,316 530.4,317.6 529.1,316.5 530.9,313.4 530.4,309.7 528.3,307.1 525.6,305"/></clipPath>
<polygon points="522.7,303.5 524.8,302.5 526.4,303.5 528.2,303.3 530.3,303.3 533,306.7 533.8,310.9 533,314.6 530.9,316.7 528.8,318.3 527.5,317.2 529.3,314.1 528.8,310.4 526.7,307.8 524,305.7" fill="#000060"/><polygon points="524.3,302.8 526.4,301.8 528,302.8 529.8,302.6 531.9,302.6 534.6,306 535.4,310.2 534.6,313.9 532.5,316 530.4,317.6 529.1,316.5 530.9,313.4 530.4,309.7 528.3,307.1 525.6,305" fill="#000060"/>
<polygon points="526.3,301.8 528.4,300.8 530,301.8 531.8,301.6 533.9,301.6 536.6,305 537.4,309.2 536.6,312.9 534.5,315 532.4,316.6 531.1,315.5 532.9,312.4 532.4,308.7 530.3,306.1 527.6,304" fill="#ff0000" clip-path="url(#ec1)"/>
<clipPath id="ec2"><polygon points="504.5,328.9 507.2,327.6 511.4,327.3 515.1,329.2 517.7,329.7 519.3,332.6 520.3,335.8 522.7,337.9 522.4,340.5 520.3,342.6 518.2,343.1 517.7,340 515.6,336.3 514,333.7 510.3,331 507.2,330.2"/><polygon points="505.7,328.4 508.4,327.1 512.6,326.8 516.3,328.7 518.9,329.2 520.5,332.1 521.5,335.3 523.9,337.4 523.6,340 521.5,342.1 519.4,342.6 518.9,339.5 516.8,335.8 515.2,333.2 511.5,330.5 508.4,329.7"/></clipPath>
<polygon points="504.1,329.1 506.8,327.8 511,327.5 514.7,329.4 517.3,329.9 518.9,332.8 519.9,336 522.3,338.1 522,340.7 519.9,342.8 517.8,343.3 517.3,340.2 515.2,336.5 513.6,333.9 509.9,331.2 506.8,330.4" fill="#000060"/><polygon points="505.7,328.4 508.4,327.1 512.6,326.8 516.3,328.7 518.9,329.2 520.5,332.1 521.5,335.3 523.9,337.4 523.6,340 521.5,342.1 519.4,342.6 518.9,339.5 516.8,335.8 515.2,333.2 511.5,330.5 508.4,329.7" fill="#000060"/>
<polygon points="507.7,327.4 510.4,326.1 514.6,325.8 518.3,327.7 520.9,328.2 522.5,331.1 523.5,334.3 525.9,336.4 525.6,339 523.5,341.1 521.4,341.6 520.9,338.5 518.8,334.8 517.2,332.2 513.5,329.5 510.4,328.7" fill="#ff0000" clip-path="url(#ec2)"/>
<clipPath id="ec3"><polygon points="525.1,337.9 527.2,336.8 531.4,337.9 533.5,340 535.6,343.7 538,347.3 536.6,349.2 531.4,348.9 528.7,346.3 527.7,342.6 525.6,340"/><polygon points="526.3,337.4 528.4,336.3 532.6,337.4 534.7,339.5 536.8,343.2 539.2,346.8 537.8,348.7 532.6,348.4 529.9,345.8 528.9,342.1 526.8,339.5"/></clipPath>
<polygon points="524.7,338.1 526.8,337 531,338.1 533.1,340.2 535.2,343.9 537.6,347.5 536.2,349.4 531,349.1 528.3,346.5 527.3,342.8 525.2,340.2" fill="#000060"/><polygon points="526.3,337.4 528.4,336.3 532.6,337.4 534.7,339.5 536.8,343.2 539.2,346.8 537.8,348.7 532.6,348.4 529.9,345.8 528.9,342.1 526.8,339.5" fill="#000060"/>
<polygon points="528.3,336.4 530.4,335.3 534.6,336.4 536.7,338.5 538.8,342.2 541.2,345.8 539.8,347.7 534.6,347.4 531.9,344.8 530.9,341.1 528.8,338.5" fill="#ff0000" clip-path="url(#ec3)"/>
<clipPath id="ec4"><polygon points="661.5,277 662.8,277 665.2,281 668.9,285.2 670.5,289.4 673.1,293 675.2,297.3 675.7,300.5 677.6,302.5 681.4,303.9 682.9,304.2 683.5,308.2 686.9,312.2 688.1,315.2 689.3,318.9 691.8,319.2 692.7,325.1 690.6,326.6 688.7,324.4 687.5,320.2 685.7,315.9 683.2,316.5 682,314.6 678.3,312.2 676.5,308.5 674,304.2 670.9,298.7 669.9,295.7 666.8,291 663.6,288.8 659.9,286.2 657.3,284.6 659.4,280.4"/></clipPath>
<polygon points="661.5,277 662.8,277 665.2,281 668.9,285.2 670.5,289.4 673.1,293 675.2,297.3 675.7,300.5 677.6,302.5 681.4,303.9 682.9,304.2 683.5,308.2 686.9,312.2 688.1,315.2 689.3,318.9 691.8,319.2 692.7,325.1 690.6,326.6 688.7,324.4 687.5,320.2 685.7,315.9 683.2,316.5 682,314.6 678.3,312.2 676.5,308.5 674,304.2 670.9,298.7 669.9,295.7 666.8,291 663.6,288.8 659.9,286.2 657.3,284.6 659.4,280.4" fill="#000060"/>
<polygon points="664.1,276 665.4,276 667.8,280 671.5,284.2 673.1,288.4 675.7,292 677.8,296.3 678.3,299.5 680.2,301.5 684,302.9 685.5,303.2 686.1,307.2 689.5,311.2 690.7,314.2 691.9,317.9 694.4,318.2 695.3,324.1 693.2,325.6 691.3,323.4 690.1,319.2 688.3,314.9 685.8,315.5 684.6,313.6 680.9,311.2 679.1,307.5 676.6,303.2 673.5,297.7 672.5,294.7 669.4,290 666.2,287.8 662.5,285.2 659.9,283.6 662,279.4" fill="#ff1000" clip-path="url(#ec4)"/>
<clipPath id="ec5"><polygon points="695.4,333 698.6,329.1 702.1,326 703.7,326.7 704.1,330.7 702.1,333 700.6,332.3 699.4,339.4 697,337 695.4,334.6"/></clipPath><clipPath id="ed5"><polygon points="696,332.5 699.2,328.6 702.7,325.5 704.3,326.2 704.7,330.2 702.7,332.5 701.2,331.8 700,338.9 697.6,336.5 696,334.1"/></clipPath>
<g clip-path="url(#ec5)"><g clip-path="url(#ed5)"><polygon points="695.4,333 698.6,329.1 702.1,326 703.7,326.7 704.1,330.7 702.1,333 700.6,332.3 699.4,339.4 697,337 695.4,334.6" fill="#ff0000"/><polygon points="698,335.4 701.2,331.5 704.7,328.4 706.3,329.1 706.7,333.1 704.7,335.4 703.2,334.7 702,341.8 699.6,339.4 698,337" fill="#000060"/></g></g>
<clipPath id="ec6"><polygon points="706.9,337.8 710,336.6 714.8,337.8 717.1,340.9 716.8,344.5 714,344.1 712,345.7 711.2,352 710.8,357.5 709.6,363 708.1,361.5 707.3,355.1 706.5,348 706.5,341.7"/></clipPath><clipPath id="ed6"><polygon points="707.5,337.3 710.6,336.1 715.4,337.3 717.7,340.4 717.4,344 714.6,343.6 712.6,345.2 711.8,351.5 711.4,357 710.2,362.5 708.7,361 707.9,354.6 707.1,347.5 707.1,341.2"/></clipPath>
<g clip-path="url(#ec6)"><g clip-path="url(#ed6)"><polygon points="706.9,337.8 710,336.6 714.8,337.8 717.1,340.9 716.8,344.5 714,344.1 712,345.7 711.2,352 710.8,357.5 709.6,363 708.1,361.5 707.3,355.1 706.5,348 706.5,341.7" fill="#ff0000"/><polygon points="709.5,340.2 712.6,339 717.4,340.2 719.7,343.3 719.4,346.9 716.6,346.5 714.6,348.1 713.8,354.4 713.4,359.9 712.2,365.4 710.7,363.9 709.9,357.5 709.1,350.4 709.1,344.1" fill="#000060"/></g></g>
<clipPath id="ec7"><polygon points="720.2,346.9 721.6,345.8 724.2,347.5 725.8,348 728.1,352 730.3,354.8 731.2,348.6 732.6,346.1 736,345.5 738.2,345.8 740.4,345.2 744.4,342.4 746.6,343 750.6,347.5 752.8,350.9 750.6,350.3 748,349.7 746.6,351.4 742.7,352.5 737.6,353.1 737.1,357.6 736.5,362.1 733.4,361.5 732,357.6 729.2,355.3 726.4,354.8 724.7,355.9 721.3,352.5 719.9,349.2"/></clipPath><clipPath id="ed7"><polygon points="720.8,346.4 722.2,345.3 724.8,347 726.4,347.5 728.7,351.5 730.9,354.3 731.8,348.1 733.2,345.6 736.6,345 738.8,345.3 741,344.7 745,341.9 747.2,342.5 751.2,347 753.4,350.4 751.2,349.8 748.6,349.2 747.2,350.9 743.3,352 738.2,352.6 737.7,357.1 737.1,361.6 734,361 732.6,357.1 729.8,354.8 727,354.3 725.3,355.4 721.9,352 720.5,348.7"/></clipPath>
<g clip-path="url(#ec7)"><g clip-path="url(#ed7)"><polygon points="720.2,346.9 721.6,345.8 724.2,347.5 725.8,348 728.1,352 730.3,354.8 731.2,348.6 732.6,346.1 736,345.5 738.2,345.8 740.4,345.2 744.4,342.4 746.6,343 750.6,347.5 752.8,350.9 750.6,350.3 748,349.7 746.6,351.4 742.7,352.5 737.6,353.1 737.1,357.6 736.5,362.1 733.4,361.5 732,357.6 729.2,355.3 726.4,354.8 724.7,355.9 721.3,352.5 719.9,349.2" fill="#ff0000"/><polygon points="722.8,349.3 724.2,348.2 726.8,349.9 728.4,350.4 730.7,354.4 732.9,357.2 733.8,351 735.2,348.5 738.6,347.9 740.8,348.2 743,347.6 747,344.8 749.2,345.4 753.2,349.9 755.4,353.3 753.2,352.7 750.6,352.1 749.2,353.8 745.3,354.9 740.2,355.5 739.7,360 739.1,364.5 736,363.9 734.6,360 731.8,357.7 729,357.2 727.3,358.3 723.9,354.9 722.5,351.6" fill="#000060"/></g></g>
<clipPath id="ec8"><polygon points="626.4,321.5 626,320 629.7,313.5 632.9,309.2 633.9,309.8 631.3,314.6 627.9,320.6"/></clipPath>
<polygon points="626.4,321.5 626,320 629.7,313.5 632.9,309.2 633.9,309.8 631.3,314.6 627.9,320.6" fill="#000060"/>
<polygon points="629,320.5 628.6,319 632.3,312.5 635.5,308.2 636.5,308.8 633.9,313.6 630.5,319.6" fill="#ff1000" clip-path="url(#ec8)"/>
<line x1="529.8" y1="317.3" x2="520.6" y2="321.8" stroke="#ff0000" stroke-width="1.3" stroke-dasharray="2 1.5"/>
<g fill="none" stroke="#000" stroke-width="1.2" stroke-linejoin="round">
<polyline points="481.1,179.2 490.5,179.2 492.6,177.6 493.7,174 495.8,173.2 498.9,174.5 503.7,176.6 506.3,178.7 509.5,181.3 515.8,179.2 524.2,176.6 532.6,172.9 540,168.2 548.4,162.4 548.9,155 551.6,153.9 552.1,149.7 554.2,147.1 552.6,144.5 550,143.4 548.9,146.1 547.4,144.5 545.8,141.8 548.9,140.3 549.5,137.1 551.6,135 555.8,134.3 565.5,133.4 574.5,132.9 575.5,146.1 579.2,145.5 580.3,145 583.4,146.1 585,139.2 582.6,138.5 583.4,134 586.6,134.5 589.2,131.3 590.3,132.9 594.5,136.1 599.2,135.8 603.4,138.2 607.1,139.2 610.8,137.6 618.2,137.8 624.5,139.2 626,141.8 629.7,143.1 634.7,140.8 639.5,141.8 643.7,139.2 645.3,136.6 647.4,136.6 649.5,138.2 652.1,137.6 655.3,132.9 659.5,136.1 663.7,131.8 660,130.3 665.8,126.6 669.5,125.5 672.1,126.6 677.4,122.4 675.3,125.5 677.9,127.6 681.6,126.6 682.6,123.4 684.2,120.8 684.5,116.6 687.9,116.6 692.6,117.1 692.6,120.3 697.4,121.8 700.5,122.6 702.4,129 704.5,136.3 702.4,137.9 698.2,136.8 696.6,137.9 699.2,145.3 705.5,143.7 706.1,141.6 707.1,141.1 710.8,144.7 715,143.2 714.5,137.9 716.1,137.4 717.1,141.1 726.6,136.3 722.9,128.9 715.5,132.1 708.2,129.5 715,126.3 708.7,110 719.7,104.7 729.7,123.7 732.9,122.6 733.4,125.8 729.2,129 730.3,132.1 740.3,127.9 736.6,118.9 735,115.3 738.2,115.3 740.3,117.4 740.8,120 745.5,116.3 743.4,114.2 743.4,111.6 732.9,103.2 738.7,96.8 753.4,107.9 758.7,101.1 755.5,98.9 753.4,100.5 741.3,90 744.4,81.6 751.3,79.3 758.6,80.6 766,82.9 772,85.4 772.9,82.5 773.8,75.6"/><polyline points="519.5,75.4 516.8,78.6 514,81.4 512.2,84.1 512.6,87.8 513.1,93.3 512.6,96.1 515.4,97.4 516.8,99.7 518.6,104.3 520.5,108 522.8,110.8 526,111.2 529.7,111.7 532.4,108.9 535.2,109.4 537.5,107.6 541.6,106.6 543.4,103.4 543.9,99.3 548,97.9 549.4,95.6 549.9,92.4 552.2,90.1 555.4,90.1 554,87.8 553.6,85 554.5,82.3 553.6,79.5 553.1,75.4"/>
<polyline points="668.4,112.9 671,117.1"/>
<polyline points="707.6,129.2 709.2,129.6"/>
<polyline points="766,75 768.3,79.7 771,77.4"/>
</g>
<polygon points="507,85.8 508.8,83.6 510.3,84.6 508.6,86.4" fill="#000"/>
</g>
<rect x="59.2" y="74.3" width="374.5" height="374.6" fill="none" stroke="#000" stroke-width="2.3"/>
<path d="M59.2 448.9v14.3M59.2 74.3v-14.3M59.2 448.9h-14.3M433.7 448.9h14.3M152.82 448.9v14.3M152.82 74.3v-14.3M59.2 355.27h-14.3M433.7 355.27h14.3M246.45 448.9v14.3M246.45 74.3v-14.3M59.2 261.65h-14.3M433.7 261.65h14.3M340.07 448.9v14.3M340.07 74.3v-14.3M59.2 168.02h-14.3M433.7 168.02h14.3M433.7 448.9v14.3M433.7 74.3v-14.3M59.2 74.4h-14.3M433.7 74.4h14.3" stroke="#000" stroke-width="2.3" fill="none"/>
<path d="M70.9 448.9v7M70.9 74.3v-7M59.2 437.2h-7M433.7 437.2h7M82.61 448.9v7M82.61 74.3v-7M59.2 425.49h-7M433.7 425.49h7M94.31 448.9v7M94.31 74.3v-7M59.2 413.79h-7M433.7 413.79h7M106.01 448.9v7M106.01 74.3v-7M59.2 402.09h-7M433.7 402.09h7M117.72 448.9v7M117.72 74.3v-7M59.2 390.38h-7M433.7 390.38h7M129.42 448.9v7M129.42 74.3v-7M59.2 378.68h-7M433.7 378.68h7M141.12 448.9v7M141.12 74.3v-7M59.2 366.98h-7M433.7 366.98h7M164.53 448.9v7M164.53 74.3v-7M59.2 343.57h-7M433.7 343.57h7M176.23 448.9v7M176.23 74.3v-7M59.2 331.87h-7M433.7 331.87h7M187.93 448.9v7M187.93 74.3v-7M59.2 320.17h-7M433.7 320.17h7M199.64 448.9v7M199.64 74.3v-7M59.2 308.46h-7M433.7 308.46h7M211.34 448.9v7M211.34 74.3v-7M59.2 296.76h-7M433.7 296.76h7M223.04 448.9v7M223.04 74.3v-7M59.2 285.06h-7M433.7 285.06h7M234.75 448.9v7M234.75 74.3v-7M59.2 273.35h-7M433.7 273.35h7M258.15 448.9v7M258.15 74.3v-7M59.2 249.95h-7M433.7 249.95h7M269.86 448.9v7M269.86 74.3v-7M59.2 238.24h-7M433.7 238.24h7M281.56 448.9v7M281.56 74.3v-7M59.2 226.54h-7M433.7 226.54h7M293.26 448.9v7M293.26 74.3v-7M59.2 214.84h-7M433.7 214.84h7M304.97 448.9v7M304.97 74.3v-7M59.2 203.13h-7M433.7 203.13h7M316.67 448.9v7M316.67 74.3v-7M59.2 191.43h-7M433.7 191.43h7M328.37 448.9v7M328.37 74.3v-7M59.2 179.73h-7M433.7 179.73h7M351.78 448.9v7M351.78 74.3v-7M59.2 156.32h-7M433.7 156.32h7M363.48 448.9v7M363.48 74.3v-7M59.2 144.62h-7M433.7 144.62h7M375.18 448.9v7M375.18 74.3v-7M59.2 132.92h-7M433.7 132.92h7M386.89 448.9v7M386.89 74.3v-7M59.2 121.21h-7M433.7 121.21h7M398.59 448.9v7M398.59 74.3v-7M59.2 109.51h-7M433.7 109.51h7M410.29 448.9v7M410.29 74.3v-7M59.2 97.81h-7M433.7 97.81h7M422 448.9v7M422 74.3v-7M59.2 86.1h-7M433.7 86.1h7" stroke="#000" stroke-width="1.3" fill="none"/>
<rect x="480.3" y="74.3" width="374.5" height="374.6" fill="none" stroke="#000" stroke-width="2.3"/>
<path d="M480.3 448.9v14.3M480.3 74.3v-14.3M480.3 448.9h-14.3M854.8 448.9h14.3M573.92 448.9v14.3M573.92 74.3v-14.3M480.3 355.27h-14.3M854.8 355.27h14.3M667.55 448.9v14.3M667.55 74.3v-14.3M480.3 261.65h-14.3M854.8 261.65h14.3M761.17 448.9v14.3M761.17 74.3v-14.3M480.3 168.02h-14.3M854.8 168.02h14.3M854.8 448.9v14.3M854.8 74.3v-14.3M480.3 74.4h-14.3M854.8 74.4h14.3" stroke="#000" stroke-width="2.3" fill="none"/>
<path d="M492 448.9v7M492 74.3v-7M480.3 437.2h-7M854.8 437.2h7M503.71 448.9v7M503.71 74.3v-7M480.3 425.49h-7M854.8 425.49h7M515.41 448.9v7M515.41 74.3v-7M480.3 413.79h-7M854.8 413.79h7M527.11 448.9v7M527.11 74.3v-7M480.3 402.09h-7M854.8 402.09h7M538.82 448.9v7M538.82 74.3v-7M480.3 390.38h-7M854.8 390.38h7M550.52 448.9v7M550.52 74.3v-7M480.3 378.68h-7M854.8 378.68h7M562.22 448.9v7M562.22 74.3v-7M480.3 366.98h-7M854.8 366.98h7M585.63 448.9v7M585.63 74.3v-7M480.3 343.57h-7M854.8 343.57h7M597.33 448.9v7M597.33 74.3v-7M480.3 331.87h-7M854.8 331.87h7M609.03 448.9v7M609.03 74.3v-7M480.3 320.17h-7M854.8 320.17h7M620.74 448.9v7M620.74 74.3v-7M480.3 308.46h-7M854.8 308.46h7M632.44 448.9v7M632.44 74.3v-7M480.3 296.76h-7M854.8 296.76h7M644.14 448.9v7M644.14 74.3v-7M480.3 285.06h-7M854.8 285.06h7M655.85 448.9v7M655.85 74.3v-7M480.3 273.35h-7M854.8 273.35h7M679.25 448.9v7M679.25 74.3v-7M480.3 249.95h-7M854.8 249.95h7M690.96 448.9v7M690.96 74.3v-7M480.3 238.24h-7M854.8 238.24h7M702.66 448.9v7M702.66 74.3v-7M480.3 226.54h-7M854.8 226.54h7M714.36 448.9v7M714.36 74.3v-7M480.3 214.84h-7M854.8 214.84h7M726.07 448.9v7M726.07 74.3v-7M480.3 203.13h-7M854.8 203.13h7M737.77 448.9v7M737.77 74.3v-7M480.3 191.43h-7M854.8 191.43h7M749.47 448.9v7M749.47 74.3v-7M480.3 179.73h-7M854.8 179.73h7M772.88 448.9v7M772.88 74.3v-7M480.3 156.32h-7M854.8 156.32h7M784.58 448.9v7M784.58 74.3v-7M480.3 144.62h-7M854.8 144.62h7M796.28 448.9v7M796.28 74.3v-7M480.3 132.92h-7M854.8 132.92h7M807.99 448.9v7M807.99 74.3v-7M480.3 121.21h-7M854.8 121.21h7M819.69 448.9v7M819.69 74.3v-7M480.3 109.51h-7M854.8 109.51h7M831.39 448.9v7M831.39 74.3v-7M480.3 97.81h-7M854.8 97.81h7M843.1 448.9v7M843.1 74.3v-7M480.3 86.1h-7M854.8 86.1h7" stroke="#000" stroke-width="1.3" fill="none"/>
<rect x="58.7" y="509.6" width="9.11" height="9.3" fill="#000"/>
<rect x="67.81" y="509.6" width="9.11" height="9.3" fill="#000"/>
<rect x="76.92" y="509.6" width="9.11" height="9.3" fill="#000"/>
<rect x="86.03" y="509.6" width="9.11" height="9.3" fill="#000"/>
<rect x="95.14" y="509.6" width="9.11" height="9.3" fill="#000"/>
<rect x="104.25" y="509.6" width="9.11" height="9.3" fill="#000"/>
<rect x="113.36" y="509.6" width="9.11" height="9.3" fill="#000"/>
<rect x="122.47" y="509.6" width="9.11" height="9.3" fill="#000"/>
<rect x="131.58" y="509.6" width="9.11" height="9.3" fill="#000"/>
<rect x="140.69" y="509.6" width="9.11" height="9.3" fill="#000"/>
<rect x="149.8" y="509.6" width="9.11" height="9.3" fill="#101010"/>
<rect x="158.91" y="509.6" width="9.11" height="9.3" fill="#191919"/>
<rect x="168.02" y="509.6" width="9.11" height="9.3" fill="#222222"/>
<rect x="177.13" y="509.6" width="9.11" height="9.3" fill="#2c2c2c"/>
<rect x="186.24" y="509.6" width="9.11" height="9.3" fill="#353535"/>
<rect x="195.35" y="509.6" width="9.11" height="9.3" fill="#3e3e3e"/>
<rect x="204.46" y="509.6" width="9.11" height="9.3" fill="#474747"/>
<rect x="213.57" y="509.6" width="9.11" height="9.3" fill="#505050"/>
<rect x="222.68" y="509.6" width="9.11" height="9.3" fill="#5a5a5a"/>
<rect x="231.79" y="509.6" width="9.11" height="9.3" fill="#636363"/>
<rect x="240.9" y="509.6" width="9.11" height="9.3" fill="#6c6c6c"/>
<rect x="250.01" y="509.6" width="9.11" height="9.3" fill="#757575"/>
<rect x="259.12" y="509.6" width="9.11" height="9.3" fill="#7e7e7e"/>
<rect x="268.23" y="509.6" width="9.11" height="9.3" fill="#888888"/>
<rect x="277.34" y="509.6" width="9.11" height="9.3" fill="#919191"/>
<rect x="286.45" y="509.6" width="9.11" height="9.3" fill="#9a9a9a"/>
<rect x="295.56" y="509.6" width="9.11" height="9.3" fill="#a3a3a3"/>
<rect x="304.67" y="509.6" width="9.11" height="9.3" fill="#acacac"/>
<rect x="313.78" y="509.6" width="9.11" height="9.3" fill="#b6b6b6"/>
<rect x="322.89" y="509.6" width="9.11" height="9.3" fill="#bfbfbf"/>
<rect x="332" y="509.6" width="9.11" height="9.3" fill="#c8c8c8"/>
<rect x="341.11" y="509.6" width="9.11" height="9.3" fill="#d1d1d1"/>
<rect x="350.22" y="509.6" width="9.11" height="9.3" fill="#dadada"/>
<rect x="359.33" y="509.6" width="9.11" height="9.3" fill="#e4e4e4"/>
<rect x="368.44" y="509.6" width="9.11" height="9.3" fill="#ededed"/>
<rect x="377.55" y="509.6" width="9.11" height="9.3" fill="#f6f6f6"/>
<polygon points="386.66,509.6 396.16,514.25 386.66,518.9" fill="#ffff00" stroke="#000" stroke-width="1.8" stroke-linejoin="miter"/>
<path d="M67.81 509.6V518.9M76.92 509.6V518.9M86.03 509.6V518.9M95.14 509.6V518.9M104.25 509.6V518.9M113.36 509.6V518.9M122.47 509.6V518.9M131.58 509.6V518.9M140.69 509.6V518.9M149.8 509.6V518.9M158.91 509.6V518.9M168.02 509.6V518.9M177.13 509.6V518.9M186.24 509.6V518.9M195.35 509.6V518.9M204.46 509.6V518.9M213.57 509.6V518.9M222.68 509.6V518.9M231.79 509.6V518.9M240.9 509.6V518.9M250.01 509.6V518.9M259.12 509.6V518.9M268.23 509.6V518.9M277.34 509.6V518.9M286.45 509.6V518.9M295.56 509.6V518.9M304.67 509.6V518.9M313.78 509.6V518.9M322.89 509.6V518.9M332 509.6V518.9M341.11 509.6V518.9M350.22 509.6V518.9M359.33 509.6V518.9M368.44 509.6V518.9M377.55 509.6V518.9" stroke="#000" stroke-width="1.6"/>
<rect x="58.7" y="509.6" width="327.96" height="9.3" fill="none" stroke="#000" stroke-width="1.8"/>
<path d="M58.7 518.9v14.5M67.81 518.9v7M76.92 518.9v7M86.03 518.9v7M95.14 518.9v7M104.25 518.9v14.5M113.36 518.9v7M122.47 518.9v7M131.58 518.9v7M140.69 518.9v7M149.8 518.9v14.5M158.91 518.9v7M168.02 518.9v7M177.13 518.9v7M186.24 518.9v7M195.35 518.9v14.5M204.46 518.9v7M213.57 518.9v7M222.68 518.9v7M231.79 518.9v7M240.9 518.9v14.5M250.01 518.9v7M259.12 518.9v7M268.23 518.9v7M277.34 518.9v7M286.45 518.9v14.5M295.56 518.9v7M304.67 518.9v7M313.78 518.9v7M322.89 518.9v7M332 518.9v14.5M341.11 518.9v7M350.22 518.9v7M359.33 518.9v7M368.44 518.9v7M377.55 518.9v14.5M386.66 518.9v7" stroke="#000" stroke-width="1.8"/>
<rect x="479.92" y="509.6" width="8.62" height="9.3" fill="#d8ffff"/>
<rect x="488.55" y="509.6" width="8.62" height="9.3" fill="#b8ffff"/>
<rect x="497.17" y="509.6" width="8.62" height="9.3" fill="#a0ffff"/>
<rect x="505.8" y="509.6" width="8.62" height="9.3" fill="#88ffff"/>
<rect x="514.42" y="509.6" width="8.62" height="9.3" fill="#74ffff"/>
<rect x="523.05" y="509.6" width="8.62" height="9.3" fill="#50eeff"/>
<rect x="531.67" y="509.6" width="8.62" height="9.3" fill="#30c8ff"/>
<rect x="540.3" y="509.6" width="8.62" height="9.3" fill="#20b0ff"/>
<rect x="548.92" y="509.6" width="8.62" height="9.3" fill="#1890ff"/>
<rect x="557.55" y="509.6" width="8.62" height="9.3" fill="#0a7cff"/>
<rect x="566.17" y="509.6" width="8.62" height="9.3" fill="#0868ff"/>
<rect x="574.8" y="509.6" width="8.62" height="9.3" fill="#0040ff"/>
<rect x="583.42" y="509.6" width="8.62" height="9.3" fill="#0010ff"/>
<rect x="592.05" y="509.6" width="8.62" height="9.3" fill="#0008f0"/>
<rect x="600.67" y="509.6" width="8.62" height="9.3" fill="#0010e0"/>
<rect x="609.3" y="509.6" width="8.62" height="9.3" fill="#0008c8"/>
<rect x="617.92" y="509.6" width="8.62" height="9.3" fill="#0000a0"/>
<rect x="626.55" y="509.6" width="8.62" height="9.3" fill="#000080"/>
<rect x="635.17" y="509.6" width="8.62" height="9.3" fill="#000058"/>
<rect x="643.8" y="509.6" width="8.62" height="9.3" fill="#ee0000"/>
<rect x="652.42" y="509.6" width="8.62" height="9.3" fill="#ff1000"/>
<rect x="661.05" y="509.6" width="8.62" height="9.3" fill="#ff3000"/>
<rect x="669.67" y="509.6" width="8.62" height="9.3" fill="#ff4800"/>
<rect x="678.3" y="509.6" width="8.62" height="9.3" fill="#ff6000"/>
<rect x="686.92" y="509.6" width="8.62" height="9.3" fill="#ff7400"/>
<rect x="695.55" y="509.6" width="8.62" height="9.3" fill="#ff8000"/>
<rect x="704.17" y="509.6" width="8.62" height="9.3" fill="#ff9800"/>
<rect x="712.8" y="509.6" width="8.62" height="9.3" fill="#ffb020"/>
<rect x="721.42" y="509.6" width="8.62" height="9.3" fill="#ffc030"/>
<rect x="730.05" y="509.6" width="8.62" height="9.3" fill="#ffd840"/>
<rect x="738.67" y="509.6" width="8.62" height="9.3" fill="#fff050"/>
<rect x="747.3" y="509.6" width="8.62" height="9.3" fill="#ffff68"/>
<rect x="755.92" y="509.6" width="8.62" height="9.3" fill="#ffff80"/>
<rect x="764.55" y="509.6" width="8.62" height="9.3" fill="#ffff90"/>
<rect x="773.17" y="509.6" width="8.62" height="9.3" fill="#ffffa0"/>
<rect x="781.8" y="509.6" width="8.62" height="9.3" fill="#ffffb4"/>
<rect x="790.42" y="509.6" width="8.62" height="9.3" fill="#ffffc8"/>
<rect x="799.05" y="509.6" width="8.62" height="9.3" fill="#ffffe0"/>
<polygon points="479.92,509.6 470.72,514.25 479.92,518.9" fill="#e8ffff" stroke="#000" stroke-width="1.8"/>
<polygon points="807.67,509.6 816.88,514.25 807.67,518.9" fill="#fffff0" stroke="#000" stroke-width="1.8"/>
<path d="M488.55 509.6V518.9M497.17 509.6V518.9M505.8 509.6V518.9M514.42 509.6V518.9M523.05 509.6V518.9M531.67 509.6V518.9M540.3 509.6V518.9M548.92 509.6V518.9M557.55 509.6V518.9M566.17 509.6V518.9M574.8 509.6V518.9M583.42 509.6V518.9M592.05 509.6V518.9M600.67 509.6V518.9M609.3 509.6V518.9M617.92 509.6V518.9M626.55 509.6V518.9M635.17 509.6V518.9M643.8 509.6V518.9M652.42 509.6V518.9M661.05 509.6V518.9M669.67 509.6V518.9M678.3 509.6V518.9M686.92 509.6V518.9M695.55 509.6V518.9M704.17 509.6V518.9M712.8 509.6V518.9M721.42 509.6V518.9M730.05 509.6V518.9M738.67 509.6V518.9M747.3 509.6V518.9M755.92 509.6V518.9M764.55 509.6V518.9M773.17 509.6V518.9M781.8 509.6V518.9M790.42 509.6V518.9M799.05 509.6V518.9" stroke="#000" stroke-width="1.6"/>
<rect x="479.92" y="509.6" width="327.75" height="9.3" fill="none" stroke="#000" stroke-width="1.8"/>
<path d="M479.92 518.9v7M488.55 518.9v7M497.17 518.9v7M505.8 518.9v14.5M514.42 518.9v7M523.05 518.9v7M531.67 518.9v7M540.3 518.9v7M548.92 518.9v7M557.55 518.9v7M566.17 518.9v7M574.8 518.9v14.5M583.42 518.9v7M592.05 518.9v7M600.67 518.9v7M609.3 518.9v7M617.92 518.9v7M626.55 518.9v7M635.17 518.9v7M643.8 518.9v14.5M652.42 518.9v7M661.05 518.9v7M669.67 518.9v7M678.3 518.9v7M686.92 518.9v7M695.55 518.9v7M704.17 518.9v7M712.8 518.9v14.5M721.42 518.9v7M730.05 518.9v7M738.67 518.9v7M747.3 518.9v7M755.92 518.9v7M764.55 518.9v7M773.17 518.9v7M781.8 518.9v14.5M790.42 518.9v7M799.05 518.9v7M807.67 518.9v7" stroke="#000" stroke-width="1.8"/>
<g font-family="'Liberation Sans', 'DejaVu Sans', sans-serif" font-weight="bold" font-size="29.3" fill="#000" style="will-change:transform">
<text font-size="34.5" transform="translate(59.88,24.8) scale(0.9599,1)">Fukuoka,</text>
<text font-size="34.5" transform="translate(213.95,24.8) scale(0.9470,1)">20190109</text>
<text font-size="34.5" transform="translate(368.03,24.8) scale(0.9333,1)">[15:43,</text>
<text font-size="34.5" transform="translate(480.16,24.8) scale(0.9415,1)">el=0.0]</text>
<text font-size="30.8" transform="translate(59.95,58.8) scale(0.8540,1)">SNR</text>
<text font-size="30.8" transform="translate(123.42,58.8) scale(0.8914,1)">[dB]</text>
<text font-size="30.8" transform="translate(481,58.8) scale(0.9482,1)">Doppler</text>
<text font-size="30.8" transform="translate(598.7,58.8) scale(0.9595,1)">Velocity</text>
<text font-size="30.8" transform="translate(717.24,58.8) scale(0.9814,1)">[m/s]</text>
<text font-size="30.2" x="14.6" y="84.55">8</text>
<text font-size="30.2" x="13.6" y="178.17">4</text>
<text font-size="30.2" x="14.6" y="271.8">0</text>
<text font-size="30.2" x="-4.4" y="365.42">−4</text>
<text font-size="30.2" x="-3.4" y="459.05">−8</text>
<text font-size="30.2" x="41.3" y="499.2">−8</text>
<text font-size="30.2" x="134.42" y="499.2">−4</text>
<text font-size="30.2" x="237.55" y="499.2">0</text>
<text font-size="30.2" x="331.18" y="499.2">4</text>
<text font-size="30.2" x="424.8" y="499.2">8</text>
<text font-size="30.2" x="462.4" y="499.2">−8</text>
<text font-size="30.2" x="555.52" y="499.2">−4</text>
<text font-size="30.2" x="658.65" y="499.2">0</text>
<text font-size="30.2" x="752.27" y="499.2">4</text>
<text font-size="30.2" x="845.9" y="499.2">8</text>
<text font-size="30.2" x="49.8" y="569.4">0</text>
<text font-size="30.2" x="82.85" y="569.4">2.5</text>
<text font-size="30.2" x="140.9" y="569.4">5</text>
<text font-size="30.2" x="173.95" y="569.4">7.5</text>
<text font-size="30.2" x="223" y="569.4">10</text>
<text font-size="30.2" x="256.05" y="569.4">12.5</text>
<text font-size="30.2" x="314.1" y="569.4">15</text>
<text font-size="30.2" x="347.15" y="569.4">17.5</text>
<text font-size="30.2" x="487.9" y="569.4">−8</text>
<text font-size="30.2" x="556.4" y="569.4">−4</text>
<text font-size="30.2" x="634.9" y="569.4">0</text>
<text font-size="30.2" x="703.9" y="569.4">4</text>
<text font-size="30.2" x="772.9" y="569.4">8</text>
</g>
</svg></body></html>
